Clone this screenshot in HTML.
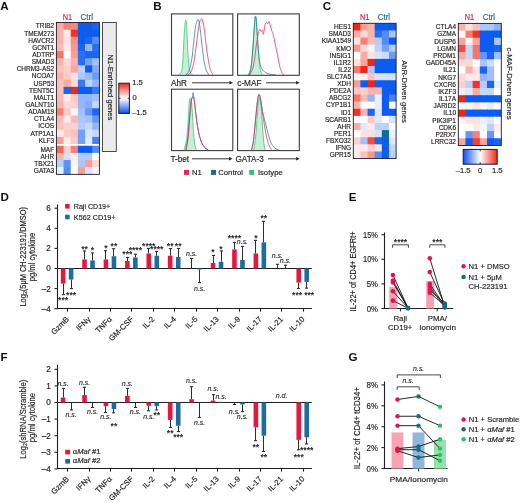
<!DOCTYPE html>
<html><head><meta charset="utf-8"><title>Figure</title>
<style>
html,body{margin:0;padding:0;background:#fff;}
body{width:520px;height:503px;overflow:hidden;}
svg{display:block;font-family:"Liberation Sans", sans-serif;will-change:transform;filter:blur(0.25px);}
</style></head>
<body>
<svg width="520" height="503" viewBox="0 0 520 503">
<rect x="0" y="0" width="520" height="503" fill="#ffffff"/>
<text x="0.30" y="9.60" font-size="11.6" text-anchor="start" fill="#111" font-weight="bold">A</text>
<text x="153.20" y="9.80" font-size="11.6" text-anchor="start" fill="#111" font-weight="bold">B</text>
<text x="322.80" y="9.80" font-size="11.6" text-anchor="start" fill="#111" font-weight="bold">C</text>
<text x="0.50" y="200.90" font-size="11.6" text-anchor="start" fill="#111" font-weight="bold">D</text>
<text x="348.80" y="201.20" font-size="11.6" text-anchor="start" fill="#111" font-weight="bold">E</text>
<text x="0.50" y="361.30" font-size="11.6" text-anchor="start" fill="#111" font-weight="bold">F</text>
<text x="348.60" y="361.30" font-size="11.6" text-anchor="start" fill="#111" font-weight="bold">G</text>
<rect x="56.40" y="22.50" width="7.87" height="7.85" fill="#faaca4"/>
<rect x="63.57" y="22.50" width="7.87" height="7.85" fill="#f78176"/>
<rect x="70.73" y="22.50" width="7.87" height="7.85" fill="#f8887e"/>
<rect x="77.90" y="22.50" width="7.87" height="7.85" fill="#0c5cf2"/>
<rect x="85.07" y="22.50" width="7.87" height="7.85" fill="#0c5cf2"/>
<rect x="92.23" y="22.50" width="7.17" height="7.85" fill="#1a65f3"/>
<text x="54.20" y="28.38" font-size="6.5" text-anchor="end" fill="#231f20" stroke="#231f20" stroke-width="0.17">TRIB2</text>
<rect x="56.40" y="29.65" width="7.87" height="7.85" fill="#fab3ac"/>
<rect x="63.57" y="29.65" width="7.87" height="7.85" fill="#feeae9"/>
<rect x="70.73" y="29.65" width="7.87" height="7.85" fill="#f33321"/>
<rect x="77.90" y="29.65" width="7.87" height="7.85" fill="#0c5cf2"/>
<rect x="85.07" y="29.65" width="7.87" height="7.85" fill="#0c5cf2"/>
<rect x="92.23" y="29.65" width="7.17" height="7.85" fill="#0c5cf2"/>
<text x="54.20" y="35.52" font-size="6.5" text-anchor="end" fill="#231f20" stroke="#231f20" stroke-width="0.17">TMEM273</text>
<rect x="56.40" y="36.80" width="7.87" height="7.85" fill="#fab3ac"/>
<rect x="63.57" y="36.80" width="7.87" height="7.85" fill="#fde2df"/>
<rect x="70.73" y="36.80" width="7.87" height="7.85" fill="#f88f85"/>
<rect x="77.90" y="36.80" width="7.87" height="7.85" fill="#0c5cf2"/>
<rect x="85.07" y="36.80" width="7.87" height="7.85" fill="#1a65f3"/>
<rect x="92.23" y="36.80" width="7.17" height="7.85" fill="#548cf6"/>
<text x="54.20" y="42.67" font-size="6.5" text-anchor="end" fill="#231f20" stroke="#231f20" stroke-width="0.17">HAVCR2</text>
<rect x="56.40" y="43.95" width="7.87" height="7.85" fill="#fbbab4"/>
<rect x="63.57" y="43.95" width="7.87" height="7.85" fill="#feeae9"/>
<rect x="70.73" y="43.95" width="7.87" height="7.85" fill="#f9968d"/>
<rect x="77.90" y="43.95" width="7.87" height="7.85" fill="#1a65f3"/>
<rect x="85.07" y="43.95" width="7.87" height="7.85" fill="#92b6f9"/>
<rect x="92.23" y="43.95" width="7.17" height="7.85" fill="#286ff4"/>
<text x="54.20" y="49.82" font-size="6.5" text-anchor="end" fill="#231f20" stroke="#231f20" stroke-width="0.17">GCNT1</text>
<rect x="56.40" y="51.10" width="7.87" height="7.85" fill="#f77468"/>
<rect x="63.57" y="51.10" width="7.87" height="7.85" fill="#ffffff"/>
<rect x="70.73" y="51.10" width="7.87" height="7.85" fill="#f99d95"/>
<rect x="77.90" y="51.10" width="7.87" height="7.85" fill="#286ff4"/>
<rect x="85.07" y="51.10" width="7.87" height="7.85" fill="#1a65f3"/>
<rect x="92.23" y="51.10" width="7.17" height="7.85" fill="#1a65f3"/>
<text x="54.20" y="56.97" font-size="6.5" text-anchor="end" fill="#231f20" stroke="#231f20" stroke-width="0.17">ADTRP</text>
<rect x="56.40" y="58.25" width="7.87" height="7.85" fill="#fab3ac"/>
<rect x="63.57" y="58.25" width="7.87" height="7.85" fill="#fdd9d6"/>
<rect x="70.73" y="58.25" width="7.87" height="7.85" fill="#fab3ac"/>
<rect x="77.90" y="58.25" width="7.87" height="7.85" fill="#286ff4"/>
<rect x="85.07" y="58.25" width="7.87" height="7.85" fill="#72a1f7"/>
<rect x="92.23" y="58.25" width="7.17" height="7.85" fill="#a2c0fa"/>
<text x="54.20" y="64.12" font-size="6.5" text-anchor="end" fill="#231f20" stroke="#231f20" stroke-width="0.17">SMAD3</text>
<rect x="56.40" y="65.40" width="7.87" height="7.85" fill="#fbc2bc"/>
<rect x="63.57" y="65.40" width="7.87" height="7.85" fill="#fcd1cd"/>
<rect x="70.73" y="65.40" width="7.87" height="7.85" fill="#faa49c"/>
<rect x="77.90" y="65.40" width="7.87" height="7.85" fill="#bad1fb"/>
<rect x="85.07" y="65.40" width="7.87" height="7.85" fill="#0c5cf2"/>
<rect x="92.23" y="65.40" width="7.17" height="7.85" fill="#82abf8"/>
<text x="54.20" y="71.27" font-size="6.5" text-anchor="end" fill="#231f20" stroke="#231f20" stroke-width="0.17">CHRM3-AS2</text>
<rect x="56.40" y="72.55" width="7.87" height="7.85" fill="#fab3ac"/>
<rect x="63.57" y="72.55" width="7.87" height="7.85" fill="#fcc9c5"/>
<rect x="70.73" y="72.55" width="7.87" height="7.85" fill="#fde2df"/>
<rect x="77.90" y="72.55" width="7.87" height="7.85" fill="#aac6fa"/>
<rect x="85.07" y="72.55" width="7.87" height="7.85" fill="#99bbfa"/>
<rect x="92.23" y="72.55" width="7.17" height="7.85" fill="#6b9cf7"/>
<text x="54.20" y="78.42" font-size="6.5" text-anchor="end" fill="#231f20" stroke="#231f20" stroke-width="0.17">NCOA7</text>
<rect x="56.40" y="79.70" width="7.87" height="7.85" fill="#fbc2bc"/>
<rect x="63.57" y="79.70" width="7.87" height="7.85" fill="#faaca4"/>
<rect x="70.73" y="79.70" width="7.87" height="7.85" fill="#fdd9d6"/>
<rect x="77.90" y="79.70" width="7.87" height="7.85" fill="#3779f4"/>
<rect x="85.07" y="79.70" width="7.87" height="7.85" fill="#bad1fb"/>
<rect x="92.23" y="79.70" width="7.17" height="7.85" fill="#92b6f9"/>
<text x="54.20" y="85.58" font-size="6.5" text-anchor="end" fill="#231f20" stroke="#231f20" stroke-width="0.17">USP53</text>
<rect x="56.40" y="86.85" width="7.87" height="7.85" fill="#fbc2bc"/>
<rect x="63.57" y="86.85" width="7.87" height="7.85" fill="#1a65f3"/>
<rect x="70.73" y="86.85" width="7.87" height="7.85" fill="#f22613"/>
<rect x="77.90" y="86.85" width="7.87" height="7.85" fill="#0c5cf2"/>
<rect x="85.07" y="86.85" width="7.87" height="7.85" fill="#0c5cf2"/>
<rect x="92.23" y="86.85" width="7.17" height="7.85" fill="#3779f4"/>
<text x="54.20" y="92.73" font-size="6.5" text-anchor="end" fill="#231f20" stroke="#231f20" stroke-width="0.17">TENT5C</text>
<rect x="56.40" y="94.00" width="7.87" height="7.85" fill="#fbbab4"/>
<rect x="63.57" y="94.00" width="7.87" height="7.85" fill="#feeae9"/>
<rect x="70.73" y="94.00" width="7.87" height="7.85" fill="#fcc9c5"/>
<rect x="77.90" y="94.00" width="7.87" height="7.85" fill="#92b6f9"/>
<rect x="85.07" y="94.00" width="7.87" height="7.85" fill="#92b6f9"/>
<rect x="92.23" y="94.00" width="7.17" height="7.85" fill="#a2c0fa"/>
<text x="54.20" y="99.88" font-size="6.5" text-anchor="end" fill="#231f20" stroke="#231f20" stroke-width="0.17">MALT1</text>
<rect x="56.40" y="101.15" width="7.87" height="7.85" fill="#fab3ac"/>
<rect x="63.57" y="101.15" width="7.87" height="7.85" fill="#fdd9d6"/>
<rect x="70.73" y="101.15" width="7.87" height="7.85" fill="#fcd1cd"/>
<rect x="77.90" y="101.15" width="7.87" height="7.85" fill="#92b6f9"/>
<rect x="85.07" y="101.15" width="7.87" height="7.85" fill="#82abf8"/>
<rect x="92.23" y="101.15" width="7.17" height="7.85" fill="#c3d7fc"/>
<text x="54.20" y="107.03" font-size="6.5" text-anchor="end" fill="#231f20" stroke="#231f20" stroke-width="0.17">GALNT10</text>
<rect x="56.40" y="108.30" width="7.87" height="7.85" fill="#f78176"/>
<rect x="63.57" y="108.30" width="7.87" height="7.85" fill="#fcc9c5"/>
<rect x="70.73" y="108.30" width="7.87" height="7.85" fill="#fef4f3"/>
<rect x="77.90" y="108.30" width="7.87" height="7.85" fill="#a2c0fa"/>
<rect x="85.07" y="108.30" width="7.87" height="7.85" fill="#6396f7"/>
<rect x="92.23" y="108.30" width="7.17" height="7.85" fill="#1a65f3"/>
<text x="54.20" y="114.18" font-size="6.5" text-anchor="end" fill="#231f20" stroke="#231f20" stroke-width="0.17">ADAM19</text>
<rect x="56.40" y="115.45" width="7.87" height="7.85" fill="#fbbab4"/>
<rect x="63.57" y="115.45" width="7.87" height="7.85" fill="#feeae9"/>
<rect x="70.73" y="115.45" width="7.87" height="7.85" fill="#fbbab4"/>
<rect x="77.90" y="115.45" width="7.87" height="7.85" fill="#aac6fa"/>
<rect x="85.07" y="115.45" width="7.87" height="7.85" fill="#a2c0fa"/>
<rect x="92.23" y="115.45" width="7.17" height="7.85" fill="#6396f7"/>
<text x="54.20" y="121.33" font-size="6.5" text-anchor="end" fill="#231f20" stroke="#231f20" stroke-width="0.17">CTLA4</text>
<rect x="56.40" y="122.60" width="7.87" height="7.85" fill="#fbc2bc"/>
<rect x="63.57" y="122.60" width="7.87" height="7.85" fill="#fcd1cd"/>
<rect x="70.73" y="122.60" width="7.87" height="7.85" fill="#fcd1cd"/>
<rect x="77.90" y="122.60" width="7.87" height="7.85" fill="#b2cbfb"/>
<rect x="85.07" y="122.60" width="7.87" height="7.85" fill="#c3d7fc"/>
<rect x="92.23" y="122.60" width="7.17" height="7.85" fill="#92b6f9"/>
<text x="54.20" y="128.48" font-size="6.5" text-anchor="end" fill="#231f20" stroke="#231f20" stroke-width="0.17">ICOS</text>
<rect x="56.40" y="129.75" width="7.87" height="7.85" fill="#feeae9"/>
<rect x="63.57" y="129.75" width="7.87" height="7.85" fill="#fcc9c5"/>
<rect x="70.73" y="129.75" width="7.87" height="7.85" fill="#fbc2bc"/>
<rect x="77.90" y="129.75" width="7.87" height="7.85" fill="#72a1f7"/>
<rect x="85.07" y="129.75" width="7.87" height="7.85" fill="#d5e3fd"/>
<rect x="92.23" y="129.75" width="7.17" height="7.85" fill="#c3d7fc"/>
<text x="54.20" y="135.63" font-size="6.5" text-anchor="end" fill="#231f20" stroke="#231f20" stroke-width="0.17">ATP1A1</text>
<rect x="56.40" y="136.90" width="7.87" height="7.15" fill="#f99d95"/>
<rect x="63.57" y="136.90" width="7.87" height="7.15" fill="#feeae9"/>
<rect x="70.73" y="136.90" width="7.87" height="7.15" fill="#fcc9c5"/>
<rect x="77.90" y="136.90" width="7.87" height="7.15" fill="#72a1f7"/>
<rect x="85.07" y="136.90" width="7.87" height="7.15" fill="#dee9fd"/>
<rect x="92.23" y="136.90" width="7.17" height="7.15" fill="#4583f5"/>
<text x="54.20" y="142.78" font-size="6.5" text-anchor="end" fill="#231f20" stroke="#231f20" stroke-width="0.17">KLF3</text>
<rect x="56.40" y="144.05" width="43.00" height="1.70" fill="#ffffff"/>
<rect x="56.40" y="145.75" width="7.87" height="7.85" fill="#f66759"/>
<rect x="63.57" y="145.75" width="7.87" height="7.85" fill="#fcd1cd"/>
<rect x="70.73" y="145.75" width="7.87" height="7.85" fill="#f78176"/>
<rect x="77.90" y="145.75" width="7.87" height="7.85" fill="#0c5cf2"/>
<rect x="85.07" y="145.75" width="7.87" height="7.85" fill="#0c5cf2"/>
<rect x="92.23" y="145.75" width="7.17" height="7.85" fill="#548cf6"/>
<text x="54.20" y="151.63" font-size="6.5" text-anchor="end" fill="#231f20" stroke="#231f20" stroke-width="0.17">MAF</text>
<rect x="56.40" y="152.90" width="7.87" height="7.85" fill="#fab3ac"/>
<rect x="63.57" y="152.90" width="7.87" height="7.85" fill="#d5e3fd"/>
<rect x="70.73" y="152.90" width="7.87" height="7.85" fill="#feeae9"/>
<rect x="77.90" y="152.90" width="7.87" height="7.85" fill="#b2cbfb"/>
<rect x="85.07" y="152.90" width="7.87" height="7.85" fill="#b2cbfb"/>
<rect x="92.23" y="152.90" width="7.17" height="7.85" fill="#ffffff"/>
<text x="54.20" y="158.78" font-size="6.5" text-anchor="end" fill="#231f20" stroke="#231f20" stroke-width="0.17">AHR</text>
<rect x="56.40" y="160.05" width="7.87" height="7.85" fill="#bad1fb"/>
<rect x="63.57" y="160.05" width="7.87" height="7.85" fill="#5c91f6"/>
<rect x="70.73" y="160.05" width="7.87" height="7.85" fill="#fef4f3"/>
<rect x="77.90" y="160.05" width="7.87" height="7.85" fill="#aac6fa"/>
<rect x="85.07" y="160.05" width="7.87" height="7.85" fill="#f99d95"/>
<rect x="92.23" y="160.05" width="7.17" height="7.85" fill="#fdd9d6"/>
<text x="54.20" y="165.93" font-size="6.5" text-anchor="end" fill="#231f20" stroke="#231f20" stroke-width="0.17">TBX21</text>
<rect x="56.40" y="167.20" width="7.87" height="7.15" fill="#e8f0fe"/>
<rect x="63.57" y="167.20" width="7.87" height="7.15" fill="#548cf6"/>
<rect x="70.73" y="167.20" width="7.87" height="7.15" fill="#ffffff"/>
<rect x="77.90" y="167.20" width="7.87" height="7.15" fill="#f99d95"/>
<rect x="85.07" y="167.20" width="7.87" height="7.15" fill="#d5e3fd"/>
<rect x="92.23" y="167.20" width="7.17" height="7.15" fill="#fef4f3"/>
<text x="54.20" y="173.08" font-size="6.5" text-anchor="end" fill="#231f20" stroke="#231f20" stroke-width="0.17">GATA3</text>
<rect x="56.40" y="22.50" width="43.00" height="151.85" fill="none" stroke="#1a1a2a" stroke-width="0.9"/>
<text x="67.40" y="19.60" font-size="8.4" text-anchor="middle" fill="#d21f4f" stroke="#d21f4f" stroke-width="0.17" textLength="9.4" lengthAdjust="spacingAndGlyphs">N1</text>
<text x="86.75" y="19.60" font-size="8.4" text-anchor="middle" fill="#2a6e8f" stroke="#2a6e8f" stroke-width="0.17" textLength="12.5" lengthAdjust="spacingAndGlyphs">Ctrl</text>
<rect x="102.50" y="22.50" width="13.80" height="129.00" fill="#ebebeb" stroke="#3a3a3a" stroke-width="0.9"/>
<text x="107.60" y="87.40" font-size="7.6" text-anchor="middle" fill="#231f20" stroke="#231f20" stroke-width="0.17" transform="rotate(90 107.60 87.40)" textLength="66.0" lengthAdjust="spacingAndGlyphs">N1-Enriched genes</text>
<defs><linearGradient id="gv" x1="0" y1="0" x2="0" y2="1"><stop offset="0" stop-color="#f0281a"/><stop offset="0.5" stop-color="#ffffff"/><stop offset="1" stop-color="#0c50f0"/></linearGradient><linearGradient id="gh" x1="0" y1="0" x2="1" y2="0"><stop offset="0" stop-color="#0c50f0"/><stop offset="0.5" stop-color="#ffffff"/><stop offset="1" stop-color="#f0281a"/></linearGradient></defs>
<rect x="118.80" y="83.20" width="10.60" height="30.20" fill="url(#gv)" stroke="#1a1a2a" stroke-width="1"/>
<line x1="118.80" y1="98.30" x2="120.60" y2="98.30" stroke="#1a1a2a" stroke-width="0.9"/>
<line x1="127.60" y1="98.30" x2="129.40" y2="98.30" stroke="#1a1a2a" stroke-width="0.9"/>
<text x="132.20" y="85.20" font-size="7.6" text-anchor="start" fill="#231f20" stroke="#231f20" stroke-width="0.17">1.5</text>
<text x="132.50" y="100.20" font-size="7.6" text-anchor="start" fill="#231f20" stroke="#231f20" stroke-width="0.17">0</text>
<text x="132.00" y="115.00" font-size="7.6" text-anchor="start" fill="#231f20" stroke="#231f20" stroke-width="0.17">–1.5</text>
<rect x="353.30" y="23.30" width="7.83" height="7.82" fill="#f22613"/>
<rect x="360.43" y="23.30" width="7.83" height="7.82" fill="#f99d95"/>
<rect x="367.57" y="23.30" width="7.83" height="7.82" fill="#fab3ac"/>
<rect x="374.70" y="23.30" width="7.83" height="7.82" fill="#0c5cf2"/>
<rect x="381.83" y="23.30" width="7.83" height="7.82" fill="#0c5cf2"/>
<rect x="388.97" y="23.30" width="7.13" height="7.82" fill="#0c5cf2"/>
<text x="351.00" y="29.16" font-size="6.5" text-anchor="end" fill="#231f20" stroke="#231f20" stroke-width="0.17">HES1</text>
<rect x="353.30" y="30.42" width="7.83" height="7.82" fill="#faaca4"/>
<rect x="360.43" y="30.42" width="7.83" height="7.82" fill="#fdd9d6"/>
<rect x="367.57" y="30.42" width="7.83" height="7.82" fill="#fab3ac"/>
<rect x="374.70" y="30.42" width="7.83" height="7.82" fill="#286ff4"/>
<rect x="381.83" y="30.42" width="7.83" height="7.82" fill="#548cf6"/>
<rect x="388.97" y="30.42" width="7.13" height="7.82" fill="#aac6fa"/>
<text x="351.00" y="36.28" font-size="6.5" text-anchor="end" fill="#231f20" stroke="#231f20" stroke-width="0.17">SMAD3</text>
<rect x="353.30" y="37.54" width="7.83" height="7.82" fill="#fde2df"/>
<rect x="360.43" y="37.54" width="7.83" height="7.82" fill="#f78176"/>
<rect x="367.57" y="37.54" width="7.83" height="7.82" fill="#fbbab4"/>
<rect x="374.70" y="37.54" width="7.83" height="7.82" fill="#b2cbfb"/>
<rect x="381.83" y="37.54" width="7.83" height="7.82" fill="#548cf6"/>
<rect x="388.97" y="37.54" width="7.13" height="7.82" fill="#0c5cf2"/>
<text x="351.00" y="43.40" font-size="6.5" text-anchor="end" fill="#231f20" stroke="#231f20" stroke-width="0.17">KIAA1549</text>
<rect x="353.30" y="44.66" width="7.83" height="7.82" fill="#f9968d"/>
<rect x="360.43" y="44.66" width="7.83" height="7.82" fill="#fdd9d6"/>
<rect x="367.57" y="44.66" width="7.83" height="7.82" fill="#fef4f3"/>
<rect x="374.70" y="44.66" width="7.83" height="7.82" fill="#bad1fb"/>
<rect x="381.83" y="44.66" width="7.83" height="7.82" fill="#72a1f7"/>
<rect x="388.97" y="44.66" width="7.13" height="7.82" fill="#b2cbfb"/>
<text x="351.00" y="50.52" font-size="6.5" text-anchor="end" fill="#231f20" stroke="#231f20" stroke-width="0.17">KMO</text>
<rect x="353.30" y="51.78" width="7.83" height="7.82" fill="#ffffff"/>
<rect x="360.43" y="51.78" width="7.83" height="7.82" fill="#faaca4"/>
<rect x="367.57" y="51.78" width="7.83" height="7.82" fill="#fde2df"/>
<rect x="374.70" y="51.78" width="7.83" height="7.82" fill="#d5e3fd"/>
<rect x="381.83" y="51.78" width="7.83" height="7.82" fill="#ccddfc"/>
<rect x="388.97" y="51.78" width="7.13" height="7.82" fill="#6b9cf7"/>
<text x="351.00" y="57.64" font-size="6.5" text-anchor="end" fill="#231f20" stroke="#231f20" stroke-width="0.17">INSIG1</text>
<rect x="353.30" y="58.90" width="7.83" height="7.82" fill="#fde2df"/>
<rect x="360.43" y="58.90" width="7.83" height="7.82" fill="#faa49c"/>
<rect x="367.57" y="58.90" width="7.83" height="7.82" fill="#f22613"/>
<rect x="374.70" y="58.90" width="7.83" height="7.82" fill="#0c5cf2"/>
<rect x="381.83" y="58.90" width="7.83" height="7.82" fill="#0c5cf2"/>
<rect x="388.97" y="58.90" width="7.13" height="7.82" fill="#0c5cf2"/>
<text x="351.00" y="64.76" font-size="6.5" text-anchor="end" fill="#231f20" stroke="#231f20" stroke-width="0.17">IL1R2</text>
<rect x="353.30" y="66.02" width="7.83" height="7.82" fill="#f77b6f"/>
<rect x="360.43" y="66.02" width="7.83" height="7.82" fill="#f22613"/>
<rect x="367.57" y="66.02" width="7.83" height="7.82" fill="#aac6fa"/>
<rect x="374.70" y="66.02" width="7.83" height="7.82" fill="#0c5cf2"/>
<rect x="381.83" y="66.02" width="7.83" height="7.82" fill="#0c5cf2"/>
<rect x="388.97" y="66.02" width="7.13" height="7.82" fill="#0c5cf2"/>
<text x="351.00" y="71.88" font-size="6.5" text-anchor="end" fill="#231f20" stroke="#231f20" stroke-width="0.17">IL22</text>
<rect x="353.30" y="73.14" width="7.83" height="7.82" fill="#fef4f3"/>
<rect x="360.43" y="73.14" width="7.83" height="7.82" fill="#fef4f3"/>
<rect x="367.57" y="73.14" width="7.83" height="7.82" fill="#fbc2bc"/>
<rect x="374.70" y="73.14" width="7.83" height="7.82" fill="#d5e3fd"/>
<rect x="381.83" y="73.14" width="7.83" height="7.82" fill="#d5e3fd"/>
<rect x="388.97" y="73.14" width="7.13" height="7.82" fill="#d5e3fd"/>
<text x="351.00" y="79.00" font-size="6.5" text-anchor="end" fill="#231f20" stroke="#231f20" stroke-width="0.17">SLC7A5</text>
<rect x="353.30" y="80.26" width="7.83" height="7.82" fill="#f99d95"/>
<rect x="360.43" y="80.26" width="7.83" height="7.82" fill="#0c5cf2"/>
<rect x="367.57" y="80.26" width="7.83" height="7.82" fill="#f22613"/>
<rect x="374.70" y="80.26" width="7.83" height="7.82" fill="#0c5cf2"/>
<rect x="381.83" y="80.26" width="7.83" height="7.82" fill="#0c5cf2"/>
<rect x="388.97" y="80.26" width="7.13" height="7.82" fill="#0c5cf2"/>
<text x="351.00" y="86.12" font-size="6.5" text-anchor="end" fill="#231f20" stroke="#231f20" stroke-width="0.17">XDH</text>
<rect x="353.30" y="87.38" width="7.83" height="7.82" fill="#fcc9c5"/>
<rect x="360.43" y="87.38" width="7.83" height="7.82" fill="#fcd1cd"/>
<rect x="367.57" y="87.38" width="7.83" height="7.82" fill="#fab3ac"/>
<rect x="374.70" y="87.38" width="7.83" height="7.82" fill="#fab3ac"/>
<rect x="381.83" y="87.38" width="7.83" height="7.82" fill="#0c5cf2"/>
<rect x="388.97" y="87.38" width="7.13" height="7.82" fill="#0c5cf2"/>
<text x="351.00" y="93.24" font-size="6.5" text-anchor="end" fill="#231f20" stroke="#231f20" stroke-width="0.17">PDE2A</text>
<rect x="353.30" y="94.50" width="7.83" height="7.82" fill="#f77468"/>
<rect x="360.43" y="94.50" width="7.83" height="7.82" fill="#fbbab4"/>
<rect x="367.57" y="94.50" width="7.83" height="7.82" fill="#92b6f9"/>
<rect x="374.70" y="94.50" width="7.83" height="7.82" fill="#e8f0fe"/>
<rect x="381.83" y="94.50" width="7.83" height="7.82" fill="#0c5cf2"/>
<rect x="388.97" y="94.50" width="7.13" height="7.82" fill="#4583f5"/>
<text x="351.00" y="100.36" font-size="6.5" text-anchor="end" fill="#231f20" stroke="#231f20" stroke-width="0.17">ABCG2</text>
<rect x="353.30" y="101.62" width="7.83" height="7.82" fill="#fab3ac"/>
<rect x="360.43" y="101.62" width="7.83" height="7.82" fill="#ffffff"/>
<rect x="367.57" y="101.62" width="7.83" height="7.82" fill="#ffffff"/>
<rect x="374.70" y="101.62" width="7.83" height="7.82" fill="#e8f0fe"/>
<rect x="381.83" y="101.62" width="7.83" height="7.82" fill="#0c5cf2"/>
<rect x="388.97" y="101.62" width="7.13" height="7.82" fill="#ffffff"/>
<text x="351.00" y="107.48" font-size="6.5" text-anchor="end" fill="#231f20" stroke="#231f20" stroke-width="0.17">CYP1B1</text>
<rect x="353.30" y="108.74" width="7.83" height="7.82" fill="#f33321"/>
<rect x="360.43" y="108.74" width="7.83" height="7.82" fill="#fab3ac"/>
<rect x="367.57" y="108.74" width="7.83" height="7.82" fill="#1a65f3"/>
<rect x="374.70" y="108.74" width="7.83" height="7.82" fill="#dee9fd"/>
<rect x="381.83" y="108.74" width="7.83" height="7.82" fill="#0c5cf2"/>
<rect x="388.97" y="108.74" width="7.13" height="7.82" fill="#0c5cf2"/>
<text x="351.00" y="114.60" font-size="6.5" text-anchor="end" fill="#231f20" stroke="#231f20" stroke-width="0.17">ID1</text>
<rect x="353.30" y="115.86" width="7.83" height="7.82" fill="#ffffff"/>
<rect x="360.43" y="115.86" width="7.83" height="7.82" fill="#ffffff"/>
<rect x="367.57" y="115.86" width="7.83" height="7.82" fill="#fcc9c5"/>
<rect x="374.70" y="115.86" width="7.83" height="7.82" fill="#dee9fd"/>
<rect x="381.83" y="115.86" width="7.83" height="7.82" fill="#ffffff"/>
<rect x="388.97" y="115.86" width="7.13" height="7.82" fill="#d5e3fd"/>
<text x="351.00" y="121.72" font-size="6.5" text-anchor="end" fill="#231f20" stroke="#231f20" stroke-width="0.17">SCARB1</text>
<rect x="353.30" y="122.98" width="7.83" height="7.82" fill="#faaca4"/>
<rect x="360.43" y="122.98" width="7.83" height="7.82" fill="#dee9fd"/>
<rect x="367.57" y="122.98" width="7.83" height="7.82" fill="#feeae9"/>
<rect x="374.70" y="122.98" width="7.83" height="7.82" fill="#bad1fb"/>
<rect x="381.83" y="122.98" width="7.83" height="7.82" fill="#bad1fb"/>
<rect x="388.97" y="122.98" width="7.13" height="7.82" fill="#ffffff"/>
<text x="351.00" y="128.84" font-size="6.5" text-anchor="end" fill="#231f20" stroke="#231f20" stroke-width="0.17">AHR</text>
<rect x="353.30" y="130.10" width="7.83" height="7.82" fill="#ffffff"/>
<rect x="360.43" y="130.10" width="7.83" height="7.82" fill="#fde2df"/>
<rect x="367.57" y="130.10" width="7.83" height="7.82" fill="#fde2df"/>
<rect x="374.70" y="130.10" width="7.83" height="7.82" fill="#d5e3fd"/>
<rect x="381.83" y="130.10" width="7.83" height="7.82" fill="#0e6e8c"/>
<rect x="388.97" y="130.10" width="7.13" height="7.82" fill="#e8f0fe"/>
<text x="351.00" y="135.96" font-size="6.5" text-anchor="end" fill="#231f20" stroke="#231f20" stroke-width="0.17">PER1</text>
<rect x="353.30" y="137.22" width="7.83" height="7.82" fill="#fcd1cd"/>
<rect x="360.43" y="137.22" width="7.83" height="7.82" fill="#a2c0fa"/>
<rect x="367.57" y="137.22" width="7.83" height="7.82" fill="#f44c3d"/>
<rect x="374.70" y="137.22" width="7.83" height="7.82" fill="#1a65f3"/>
<rect x="381.83" y="137.22" width="7.83" height="7.82" fill="#0c5cf2"/>
<rect x="388.97" y="137.22" width="7.13" height="7.82" fill="#dee9fd"/>
<text x="351.00" y="143.08" font-size="6.5" text-anchor="end" fill="#231f20" stroke="#231f20" stroke-width="0.17">FBXO32</text>
<rect x="353.30" y="144.34" width="7.83" height="7.82" fill="#feeae9"/>
<rect x="360.43" y="144.34" width="7.83" height="7.82" fill="#feeae9"/>
<rect x="367.57" y="144.34" width="7.83" height="7.82" fill="#fcd1cd"/>
<rect x="374.70" y="144.34" width="7.83" height="7.82" fill="#fde2df"/>
<rect x="381.83" y="144.34" width="7.83" height="7.82" fill="#0c5cf2"/>
<rect x="388.97" y="144.34" width="7.13" height="7.82" fill="#c3d7fc"/>
<text x="351.00" y="150.20" font-size="6.5" text-anchor="end" fill="#231f20" stroke="#231f20" stroke-width="0.17">IFNG</text>
<rect x="353.30" y="151.46" width="7.83" height="7.12" fill="#feeae9"/>
<rect x="360.43" y="151.46" width="7.83" height="7.12" fill="#fbc2bc"/>
<rect x="367.57" y="151.46" width="7.83" height="7.12" fill="#f9968d"/>
<rect x="374.70" y="151.46" width="7.83" height="7.12" fill="#548cf6"/>
<rect x="381.83" y="151.46" width="7.83" height="7.12" fill="#0c5cf2"/>
<rect x="388.97" y="151.46" width="7.13" height="7.12" fill="#bad1fb"/>
<text x="351.00" y="157.32" font-size="6.5" text-anchor="end" fill="#231f20" stroke="#231f20" stroke-width="0.17">GPR15</text>
<rect x="353.30" y="23.30" width="42.80" height="135.28" fill="none" stroke="#1a1a2a" stroke-width="0.9"/>
<text x="364.60" y="19.60" font-size="8.4" text-anchor="middle" fill="#d21f4f" stroke="#d21f4f" stroke-width="0.17" textLength="9.4" lengthAdjust="spacingAndGlyphs">N1</text>
<text x="383.90" y="19.60" font-size="8.4" text-anchor="middle" fill="#2a6e8f" stroke="#2a6e8f" stroke-width="0.17" textLength="12.5" lengthAdjust="spacingAndGlyphs">Ctrl</text>
<text x="402.30" y="91.50" font-size="7.6" text-anchor="middle" fill="#231f20" stroke="#231f20" stroke-width="0.17" transform="rotate(90 402.30 91.50)" textLength="62.7" lengthAdjust="spacingAndGlyphs">AhR-Driven genes</text>
<rect x="458.30" y="23.40" width="7.87" height="7.88" fill="#fab3ac"/>
<rect x="465.47" y="23.40" width="7.87" height="7.88" fill="#fde2df"/>
<rect x="472.63" y="23.40" width="7.87" height="7.88" fill="#fbc2bc"/>
<rect x="479.80" y="23.40" width="7.87" height="7.88" fill="#aac6fa"/>
<rect x="486.97" y="23.40" width="7.87" height="7.88" fill="#aac6fa"/>
<rect x="494.13" y="23.40" width="7.17" height="7.88" fill="#8ab0f9"/>
<text x="456.00" y="29.29" font-size="6.5" text-anchor="end" fill="#231f20" stroke="#231f20" stroke-width="0.17">CTLA4</text>
<rect x="458.30" y="30.58" width="7.87" height="7.88" fill="#fef4f3"/>
<rect x="465.47" y="30.58" width="7.87" height="7.88" fill="#f77b6f"/>
<rect x="472.63" y="30.58" width="7.87" height="7.88" fill="#f33321"/>
<rect x="479.80" y="30.58" width="7.87" height="7.88" fill="#0c5cf2"/>
<rect x="486.97" y="30.58" width="7.87" height="7.88" fill="#0c5cf2"/>
<rect x="494.13" y="30.58" width="7.17" height="7.88" fill="#0c5cf2"/>
<text x="456.00" y="36.47" font-size="6.5" text-anchor="end" fill="#231f20" stroke="#231f20" stroke-width="0.17">GZMA</text>
<rect x="458.30" y="37.76" width="7.87" height="7.88" fill="#faa49c"/>
<rect x="465.47" y="37.76" width="7.87" height="7.88" fill="#fef4f3"/>
<rect x="472.63" y="37.76" width="7.87" height="7.88" fill="#faa49c"/>
<rect x="479.80" y="37.76" width="7.87" height="7.88" fill="#0c5cf2"/>
<rect x="486.97" y="37.76" width="7.87" height="7.88" fill="#0c5cf2"/>
<rect x="494.13" y="37.76" width="7.17" height="7.88" fill="#aac6fa"/>
<text x="456.00" y="43.65" font-size="6.5" text-anchor="end" fill="#231f20" stroke="#231f20" stroke-width="0.17">DUSP6</text>
<rect x="458.30" y="44.94" width="7.87" height="7.88" fill="#f44c3d"/>
<rect x="465.47" y="44.94" width="7.87" height="7.88" fill="#c3d7fc"/>
<rect x="472.63" y="44.94" width="7.87" height="7.88" fill="#f77468"/>
<rect x="479.80" y="44.94" width="7.87" height="7.88" fill="#0c5cf2"/>
<rect x="486.97" y="44.94" width="7.87" height="7.88" fill="#0c5cf2"/>
<rect x="494.13" y="44.94" width="7.17" height="7.88" fill="#1a65f3"/>
<text x="456.00" y="50.83" font-size="6.5" text-anchor="end" fill="#231f20" stroke="#231f20" stroke-width="0.17">LGMN</text>
<rect x="458.30" y="52.12" width="7.87" height="7.88" fill="#faaca4"/>
<rect x="465.47" y="52.12" width="7.87" height="7.88" fill="#c3d7fc"/>
<rect x="472.63" y="52.12" width="7.87" height="7.88" fill="#f77468"/>
<rect x="479.80" y="52.12" width="7.87" height="7.88" fill="#6396f7"/>
<rect x="486.97" y="52.12" width="7.87" height="7.88" fill="#1a65f3"/>
<rect x="494.13" y="52.12" width="7.17" height="7.88" fill="#a2c0fa"/>
<text x="456.00" y="58.01" font-size="6.5" text-anchor="end" fill="#231f20" stroke="#231f20" stroke-width="0.17">PRDM1</text>
<rect x="458.30" y="59.30" width="7.87" height="7.88" fill="#fdd9d6"/>
<rect x="465.47" y="59.30" width="7.87" height="7.88" fill="#fdd9d6"/>
<rect x="472.63" y="59.30" width="7.87" height="7.88" fill="#ffffff"/>
<rect x="479.80" y="59.30" width="7.87" height="7.88" fill="#aac6fa"/>
<rect x="486.97" y="59.30" width="7.87" height="7.88" fill="#ccddfc"/>
<rect x="494.13" y="59.30" width="7.17" height="7.88" fill="#ffffff"/>
<text x="456.00" y="65.19" font-size="6.5" text-anchor="end" fill="#231f20" stroke="#231f20" stroke-width="0.17">GADD45A</text>
<rect x="458.30" y="66.48" width="7.87" height="7.88" fill="#ffffff"/>
<rect x="465.47" y="66.48" width="7.87" height="7.88" fill="#fab3ac"/>
<rect x="472.63" y="66.48" width="7.87" height="7.88" fill="#fde2df"/>
<rect x="479.80" y="66.48" width="7.87" height="7.88" fill="#1a65f3"/>
<rect x="486.97" y="66.48" width="7.87" height="7.88" fill="#a2c0fa"/>
<rect x="494.13" y="66.48" width="7.17" height="7.88" fill="#ffffff"/>
<text x="456.00" y="72.37" font-size="6.5" text-anchor="end" fill="#231f20" stroke="#231f20" stroke-width="0.17">IL21</text>
<rect x="458.30" y="73.66" width="7.87" height="7.88" fill="#fdd9d6"/>
<rect x="465.47" y="73.66" width="7.87" height="7.88" fill="#feeae9"/>
<rect x="472.63" y="73.66" width="7.87" height="7.88" fill="#feeae9"/>
<rect x="479.80" y="73.66" width="7.87" height="7.88" fill="#92b6f9"/>
<rect x="486.97" y="73.66" width="7.87" height="7.88" fill="#a2c0fa"/>
<rect x="494.13" y="73.66" width="7.17" height="7.88" fill="#ffffff"/>
<text x="456.00" y="79.55" font-size="6.5" text-anchor="end" fill="#231f20" stroke="#231f20" stroke-width="0.17">NKG7</text>
<rect x="458.30" y="80.84" width="7.87" height="7.88" fill="#fcd1cd"/>
<rect x="465.47" y="80.84" width="7.87" height="7.88" fill="#bad1fb"/>
<rect x="472.63" y="80.84" width="7.87" height="7.88" fill="#f33321"/>
<rect x="479.80" y="80.84" width="7.87" height="7.88" fill="#b2cbfb"/>
<rect x="486.97" y="80.84" width="7.87" height="7.88" fill="#1a65f3"/>
<rect x="494.13" y="80.84" width="7.17" height="7.88" fill="#e8f0fe"/>
<text x="456.00" y="86.73" font-size="6.5" text-anchor="end" fill="#231f20" stroke="#231f20" stroke-width="0.17">CXCR6</text>
<rect x="458.30" y="88.02" width="7.87" height="7.88" fill="#feeae9"/>
<rect x="465.47" y="88.02" width="7.87" height="7.88" fill="#dee9fd"/>
<rect x="472.63" y="88.02" width="7.87" height="7.88" fill="#faaca4"/>
<rect x="479.80" y="88.02" width="7.87" height="7.88" fill="#c3d7fc"/>
<rect x="486.97" y="88.02" width="7.87" height="7.88" fill="#c3d7fc"/>
<rect x="494.13" y="88.02" width="7.17" height="7.88" fill="#ffffff"/>
<text x="456.00" y="93.91" font-size="6.5" text-anchor="end" fill="#231f20" stroke="#231f20" stroke-width="0.17">IKZF3</text>
<rect x="458.30" y="95.20" width="7.87" height="7.88" fill="#f22613"/>
<rect x="465.47" y="95.20" width="7.87" height="7.88" fill="#0c5cf2"/>
<rect x="472.63" y="95.20" width="7.87" height="7.88" fill="#0c5cf2"/>
<rect x="479.80" y="95.20" width="7.87" height="7.88" fill="#0c5cf2"/>
<rect x="486.97" y="95.20" width="7.87" height="7.88" fill="#0c5cf2"/>
<rect x="494.13" y="95.20" width="7.17" height="7.88" fill="#0c5cf2"/>
<text x="456.00" y="101.09" font-size="6.5" text-anchor="end" fill="#231f20" stroke="#231f20" stroke-width="0.17">IL17A</text>
<rect x="458.30" y="102.38" width="7.87" height="7.88" fill="#ffffff"/>
<rect x="465.47" y="102.38" width="7.87" height="7.88" fill="#f2f7fe"/>
<rect x="472.63" y="102.38" width="7.87" height="7.88" fill="#fde2df"/>
<rect x="479.80" y="102.38" width="7.87" height="7.88" fill="#f2f7fe"/>
<rect x="486.97" y="102.38" width="7.87" height="7.88" fill="#e8f0fe"/>
<rect x="494.13" y="102.38" width="7.17" height="7.88" fill="#ffffff"/>
<text x="456.00" y="108.27" font-size="6.5" text-anchor="end" fill="#231f20" stroke="#231f20" stroke-width="0.17">JARID2</text>
<rect x="458.30" y="109.56" width="7.87" height="7.88" fill="#f22613"/>
<rect x="465.47" y="109.56" width="7.87" height="7.88" fill="#0c5cf2"/>
<rect x="472.63" y="109.56" width="7.87" height="7.88" fill="#0c5cf2"/>
<rect x="479.80" y="109.56" width="7.87" height="7.88" fill="#0c5cf2"/>
<rect x="486.97" y="109.56" width="7.87" height="7.88" fill="#0c5cf2"/>
<rect x="494.13" y="109.56" width="7.17" height="7.88" fill="#0c5cf2"/>
<text x="456.00" y="115.45" font-size="6.5" text-anchor="end" fill="#231f20" stroke="#231f20" stroke-width="0.17">IL10</text>
<rect x="458.30" y="116.74" width="7.87" height="7.88" fill="#fef4f3"/>
<rect x="465.47" y="116.74" width="7.87" height="7.88" fill="#fde2df"/>
<rect x="472.63" y="116.74" width="7.87" height="7.88" fill="#fde2df"/>
<rect x="479.80" y="116.74" width="7.87" height="7.88" fill="#e8f0fe"/>
<rect x="486.97" y="116.74" width="7.87" height="7.88" fill="#dee9fd"/>
<rect x="494.13" y="116.74" width="7.17" height="7.88" fill="#ffffff"/>
<text x="456.00" y="122.63" font-size="6.5" text-anchor="end" fill="#231f20" stroke="#231f20" stroke-width="0.17">PIK3IP1</text>
<rect x="458.30" y="123.92" width="7.87" height="7.88" fill="#ffffff"/>
<rect x="465.47" y="123.92" width="7.87" height="7.88" fill="#ffffff"/>
<rect x="472.63" y="123.92" width="7.87" height="7.88" fill="#feeae9"/>
<rect x="479.80" y="123.92" width="7.87" height="7.88" fill="#f2f7fe"/>
<rect x="486.97" y="123.92" width="7.87" height="7.88" fill="#bad1fb"/>
<rect x="494.13" y="123.92" width="7.17" height="7.88" fill="#feeae9"/>
<text x="456.00" y="129.81" font-size="6.5" text-anchor="end" fill="#231f20" stroke="#231f20" stroke-width="0.17">CDK6</text>
<rect x="458.30" y="131.10" width="7.87" height="7.88" fill="#ffffff"/>
<rect x="465.47" y="131.10" width="7.87" height="7.88" fill="#6396f7"/>
<rect x="472.63" y="131.10" width="7.87" height="7.88" fill="#f78176"/>
<rect x="479.80" y="131.10" width="7.87" height="7.88" fill="#ffffff"/>
<rect x="486.97" y="131.10" width="7.87" height="7.88" fill="#6396f7"/>
<rect x="494.13" y="131.10" width="7.17" height="7.88" fill="#ffffff"/>
<text x="456.00" y="136.99" font-size="6.5" text-anchor="end" fill="#231f20" stroke="#231f20" stroke-width="0.17">P2RX7</text>
<rect x="458.30" y="138.28" width="7.87" height="7.18" fill="#faa49c"/>
<rect x="465.47" y="138.28" width="7.87" height="7.18" fill="#0c5cf2"/>
<rect x="472.63" y="138.28" width="7.87" height="7.18" fill="#f43f2f"/>
<rect x="479.80" y="138.28" width="7.87" height="7.18" fill="#faa49c"/>
<rect x="486.97" y="138.28" width="7.87" height="7.18" fill="#0c5cf2"/>
<rect x="494.13" y="138.28" width="7.17" height="7.18" fill="#1a65f3"/>
<text x="456.00" y="144.17" font-size="6.5" text-anchor="end" fill="#231f20" stroke="#231f20" stroke-width="0.17">LRRC32</text>
<rect x="458.30" y="23.40" width="43.00" height="122.06" fill="none" stroke="#1a1a2a" stroke-width="0.9"/>
<text x="469.40" y="19.60" font-size="8.4" text-anchor="middle" fill="#d21f4f" stroke="#d21f4f" stroke-width="0.17" textLength="9.4" lengthAdjust="spacingAndGlyphs">N1</text>
<text x="488.90" y="19.60" font-size="8.4" text-anchor="middle" fill="#2a6e8f" stroke="#2a6e8f" stroke-width="0.17" textLength="12.3" lengthAdjust="spacingAndGlyphs">Ctrl</text>
<text x="507.30" y="83.60" font-size="7.6" text-anchor="middle" fill="#231f20" stroke="#231f20" stroke-width="0.17" transform="rotate(90 507.30 83.60)" textLength="72.0" lengthAdjust="spacingAndGlyphs">c-MAF-Driven genes</text>
<rect x="463.20" y="149.40" width="34.00" height="14.80" fill="url(#gh)" stroke="#1a1a2a" stroke-width="1"/>
<line x1="480.20" y1="149.40" x2="480.20" y2="151.40" stroke="#1a1a2a" stroke-width="0.9"/>
<line x1="480.20" y1="162.20" x2="480.20" y2="164.20" stroke="#1a1a2a" stroke-width="0.9"/>
<text x="463.20" y="172.90" font-size="7.6" text-anchor="middle" fill="#231f20" stroke="#231f20" stroke-width="0.17">–1.5</text>
<text x="480.20" y="172.90" font-size="7.6" text-anchor="middle" fill="#231f20" stroke="#231f20" stroke-width="0.17">0</text>
<text x="497.20" y="172.90" font-size="7.6" text-anchor="middle" fill="#231f20" stroke="#231f20" stroke-width="0.17">1.5</text>
<path d="M178.44,75.13 C178.90,74.59 180.52,73.74 181.22,71.93 C181.92,70.12 182.22,68.56 182.61,64.27 C183.01,59.98 183.24,52.44 183.59,46.18 C183.93,39.92 184.33,31.06 184.70,26.70 C185.07,22.34 185.49,20.25 185.81,20.02 C186.14,19.79 186.37,21.18 186.65,25.31 C186.93,29.44 187.16,38.53 187.48,44.79 C187.81,51.05 188.13,58.36 188.60,62.88 C189.06,67.40 189.57,69.88 190.27,71.93 C190.96,73.97 192.35,74.59 192.77,75.13 L192.77,74.50 L178.44,74.50 Z" fill="#c6efd6" stroke="none"/>
<path d="M178.44,75.13 C178.90,74.59 180.52,73.74 181.22,71.93 C181.92,70.12 182.22,68.56 182.61,64.27 C183.01,59.98 183.24,52.44 183.59,46.18 C183.93,39.92 184.33,31.06 184.70,26.70 C185.07,22.34 185.49,20.25 185.81,20.02 C186.14,19.79 186.37,21.18 186.65,25.31 C186.93,29.44 187.16,38.53 187.48,44.79 C187.81,51.05 188.13,58.36 188.60,62.88 C189.06,67.40 189.57,69.88 190.27,71.93 C190.96,73.97 192.35,74.59 192.77,75.13" fill="none" stroke="#34c27a" stroke-width="0.75"/>
<path d="M185.39,75.13 C185.97,74.48 187.83,73.74 188.87,71.23 C189.92,68.73 190.85,64.97 191.66,60.10 C192.47,55.23 193.10,47.57 193.74,42.01 C194.39,36.44 194.97,30.29 195.55,26.70 C196.13,23.10 196.81,21.64 197.22,20.44 C197.64,19.23 197.78,19.35 198.06,19.46 C198.34,19.58 198.52,19.46 198.89,21.13 C199.26,22.80 199.75,25.31 200.28,29.48 C200.82,33.66 201.49,41.08 202.09,46.18 C202.70,51.28 203.28,56.27 203.90,60.10 C204.53,63.92 205.06,66.68 205.85,69.14 C206.64,71.60 208.17,73.90 208.63,74.85" fill="none" stroke="#2b7896" stroke-width="0.75"/>
<path d="M187.48,75.13 C188.06,74.59 189.92,73.97 190.96,71.93 C192.01,69.88 192.93,66.71 193.74,62.88 C194.56,59.05 195.14,54.07 195.83,48.96 C196.53,43.86 197.27,36.79 197.92,32.27 C198.57,27.74 199.15,24.03 199.73,21.83 C200.31,19.63 200.89,19.16 201.40,19.05 C201.91,18.93 202.28,19.16 202.79,21.13 C203.30,23.10 203.88,26.70 204.46,30.87 C205.04,35.05 205.62,41.31 206.27,46.18 C206.92,51.05 207.66,56.15 208.36,60.10 C209.05,64.04 209.63,67.33 210.44,69.84 C211.26,72.34 212.76,74.25 213.23,75.13" fill="none" stroke="#e2285c" stroke-width="0.75"/>
<path d="M247.92,75.13 C248.38,74.01 249.93,72.34 250.70,68.45 C251.46,64.55 252.00,57.55 252.51,51.75 C253.02,45.95 253.37,38.99 253.76,33.66 C254.15,28.32 254.57,22.64 254.87,19.74 C255.18,16.84 255.34,16.26 255.57,16.26 C255.80,16.26 255.96,16.38 256.27,19.74 C256.57,23.10 256.96,30.41 257.38,36.44 C257.80,42.47 258.31,50.59 258.77,55.92 C259.23,61.26 259.65,65.39 260.16,68.45 C260.67,71.51 261.28,73.18 261.83,74.29 C262.39,75.40 263.22,74.99 263.50,75.13 L263.50,74.50 L247.92,74.50 Z" fill="#c6efd6" stroke="none"/>
<path d="M247.92,75.13 C248.38,74.01 249.93,72.34 250.70,68.45 C251.46,64.55 252.00,57.55 252.51,51.75 C253.02,45.95 253.37,38.99 253.76,33.66 C254.15,28.32 254.57,22.64 254.87,19.74 C255.18,16.84 255.34,16.26 255.57,16.26 C255.80,16.26 255.96,16.38 256.27,19.74 C256.57,23.10 256.96,30.41 257.38,36.44 C257.80,42.47 258.31,50.59 258.77,55.92 C259.23,61.26 259.65,65.39 260.16,68.45 C260.67,71.51 261.28,73.18 261.83,74.29 C262.39,75.40 263.22,74.99 263.50,75.13" fill="none" stroke="#34c27a" stroke-width="0.75"/>
<path d="M248.61,75.13 C249.01,74.01 250.30,72.34 250.98,68.45 C251.65,64.55 252.16,57.55 252.65,51.75 C253.13,45.95 253.53,38.99 253.90,33.66 C254.27,28.32 254.60,22.64 254.87,19.74 C255.15,16.84 255.34,16.26 255.57,16.26 C255.80,16.26 255.96,16.38 256.27,19.74 C256.57,23.10 256.96,30.64 257.38,36.44 C257.80,42.24 258.31,49.89 258.77,54.53 C259.23,59.17 259.54,61.72 260.16,64.27 C260.79,66.82 261.44,68.33 262.53,69.84 C263.62,71.35 265.19,72.55 266.70,73.32 C268.21,74.08 270.07,74.15 271.57,74.43 C273.08,74.71 275.05,74.89 275.75,74.99" fill="none" stroke="#2b7896" stroke-width="0.75"/>
<path d="M249.59,75.13 C250.12,74.01 251.91,71.42 252.79,68.45 C253.67,65.48 254.25,61.49 254.87,57.31 C255.50,53.14 255.96,47.34 256.54,43.40 C257.12,39.46 257.82,35.98 258.35,33.66 C258.89,31.34 259.28,29.83 259.74,29.48 C260.21,29.13 260.67,31.45 261.14,31.57 C261.60,31.69 262.13,29.71 262.53,30.18 C262.92,30.64 263.11,35.16 263.50,34.35 C263.90,33.54 264.43,27.33 264.89,25.31 C265.36,23.29 265.82,22.48 266.28,22.25 C266.75,22.01 267.21,24.06 267.68,23.92 C268.14,23.78 268.60,20.99 269.07,21.41 C269.53,21.83 270.00,24.84 270.46,26.42 C270.92,28.00 271.43,29.67 271.85,30.87 C272.27,32.08 272.55,32.15 272.96,33.66 C273.38,35.16 273.89,37.72 274.36,39.92 C274.82,42.12 275.24,44.44 275.75,46.88 C276.26,49.31 276.84,51.63 277.42,54.53 C278.00,57.43 278.58,61.49 279.23,64.27 C279.88,67.06 280.62,69.42 281.31,71.23 C282.01,73.04 283.05,74.48 283.40,75.13" fill="none" stroke="#e2285c" stroke-width="0.75"/>
<path d="M184.00,150.40 C184.47,148.32 186.09,142.98 186.79,137.88 C187.48,132.78 187.78,125.59 188.18,119.79 C188.57,113.99 188.80,106.69 189.15,103.09 C189.50,99.50 189.89,98.68 190.27,98.22 C190.64,97.76 191.03,97.87 191.38,100.31 C191.73,102.74 192.01,107.73 192.35,112.83 C192.70,117.93 193.07,125.59 193.47,130.92 C193.86,136.26 194.21,141.59 194.72,144.84 C195.23,148.09 196.23,149.48 196.53,150.40 L196.53,149.90 L184.00,149.90 Z" fill="#c6efd6" stroke="none"/>
<path d="M184.00,150.40 C184.47,148.32 186.09,142.98 186.79,137.88 C187.48,132.78 187.78,125.59 188.18,119.79 C188.57,113.99 188.80,106.69 189.15,103.09 C189.50,99.50 189.89,98.68 190.27,98.22 C190.64,97.76 191.03,97.87 191.38,100.31 C191.73,102.74 192.01,107.73 192.35,112.83 C192.70,117.93 193.07,125.59 193.47,130.92 C193.86,136.26 194.21,141.59 194.72,144.84 C195.23,148.09 196.23,149.48 196.53,150.40" fill="none" stroke="#34c27a" stroke-width="0.75"/>
<path d="M185.39,150.40 C185.79,148.32 187.06,143.45 187.76,137.88 C188.46,132.31 189.04,123.04 189.57,117.01 C190.10,110.98 190.50,105.06 190.96,101.70 C191.43,98.34 192.01,98.34 192.35,96.83 C192.70,95.32 192.79,92.54 193.05,92.65 C193.30,92.77 193.54,95.09 193.88,97.52 C194.23,99.96 194.70,103.55 195.14,107.27 C195.58,110.98 195.95,115.62 196.53,119.79 C197.11,123.96 197.80,128.60 198.62,132.31 C199.43,136.03 200.35,139.50 201.40,142.06 C202.44,144.61 203.67,146.25 204.88,147.62 C206.08,148.99 208.01,149.83 208.63,150.27" fill="none" stroke="#2b7896" stroke-width="0.75"/>
<path d="M186.09,150.40 C186.44,148.32 187.55,143.45 188.18,137.88 C188.80,132.31 189.34,123.04 189.85,117.01 C190.36,110.98 190.82,104.83 191.24,101.70 C191.66,98.57 192.05,99.03 192.35,98.22 C192.65,97.41 192.79,96.83 193.05,96.83 C193.30,96.83 193.54,96.48 193.88,98.22 C194.23,99.96 194.70,103.67 195.14,107.27 C195.58,110.86 195.95,115.62 196.53,119.79 C197.11,123.96 197.80,128.60 198.62,132.31 C199.43,136.03 200.35,139.50 201.40,142.06 C202.44,144.61 203.72,146.25 204.88,147.62 C206.04,148.99 207.78,149.83 208.36,150.27" fill="none" stroke="#e2285c" stroke-width="0.75"/>
<path d="M253.48,150.40 C253.83,148.32 254.99,142.98 255.57,137.88 C256.15,132.78 256.50,125.59 256.96,119.79 C257.43,113.99 257.89,106.69 258.35,103.09 C258.82,99.50 259.28,97.52 259.74,98.22 C260.21,98.92 260.67,102.51 261.14,107.27 C261.60,112.02 262.06,120.72 262.53,126.75 C262.99,132.78 263.48,139.50 263.92,143.45 C264.36,147.39 264.96,149.25 265.17,150.40 L265.17,149.90 L253.48,149.90 Z" fill="#c6efd6" stroke="none"/>
<path d="M253.48,150.40 C253.83,148.32 254.99,142.98 255.57,137.88 C256.15,132.78 256.50,125.59 256.96,119.79 C257.43,113.99 257.89,106.69 258.35,103.09 C258.82,99.50 259.28,97.52 259.74,98.22 C260.21,98.92 260.67,102.51 261.14,107.27 C261.60,112.02 262.06,120.72 262.53,126.75 C262.99,132.78 263.48,139.50 263.92,143.45 C264.36,147.39 264.96,149.25 265.17,150.40" fill="none" stroke="#34c27a" stroke-width="0.75"/>
<path d="M251.39,150.40 C251.74,148.78 252.79,145.77 253.48,140.66 C254.18,135.56 254.92,126.28 255.57,119.79 C256.22,113.30 256.80,105.92 257.38,101.70 C257.96,97.48 258.49,94.69 259.05,94.46 C259.61,94.23 260.14,97.48 260.72,100.31 C261.30,103.14 261.83,107.96 262.53,111.44 C263.22,114.92 264.08,117.93 264.89,121.18 C265.71,124.43 266.52,127.68 267.40,130.92 C268.28,134.17 269.14,138.00 270.18,140.66 C271.23,143.33 272.22,145.33 273.66,146.93 C275.10,148.53 277.95,149.71 278.81,150.27" fill="none" stroke="#2b7896" stroke-width="0.75"/>
<path d="M251.39,150.40 C251.74,148.78 252.79,145.77 253.48,140.66 C254.18,135.56 254.92,126.28 255.57,119.79 C256.22,113.30 256.80,105.92 257.38,101.70 C257.96,97.48 258.49,94.69 259.05,94.46 C259.61,94.23 260.14,97.25 260.72,100.31 C261.30,103.37 261.88,108.43 262.53,112.83 C263.18,117.24 263.85,122.34 264.62,126.75 C265.38,131.15 266.31,136.03 267.12,139.27 C267.93,142.52 268.65,144.40 269.49,146.23 C270.32,148.06 271.69,149.59 272.13,150.27" fill="none" stroke="#e2285c" stroke-width="0.75"/>
<rect x="171.50" y="13.90" width="61.30" height="61.40" fill="none" stroke="#3c3c3c" stroke-width="1.1"/>
<rect x="237.60" y="13.90" width="61.70" height="61.40" fill="none" stroke="#3c3c3c" stroke-width="1.1"/>
<rect x="171.50" y="89.20" width="61.30" height="61.40" fill="none" stroke="#3c3c3c" stroke-width="1.1"/>
<rect x="237.60" y="89.20" width="61.70" height="61.40" fill="none" stroke="#3c3c3c" stroke-width="1.1"/>
<text x="171.00" y="85.60" font-size="8.2" text-anchor="start" fill="#231f20" stroke="#231f20" stroke-width="0.17">AhR</text>
<line x1="192.00" y1="82.80" x2="230.00" y2="82.80" stroke="#231f20" stroke-width="0.9"/>
<path d="M229.50,81.00 L233.00,82.80 L229.50,84.60 Z" fill="#231f20"/>
<text x="237.30" y="85.60" font-size="8.2" text-anchor="start" fill="#231f20" stroke="#231f20" stroke-width="0.17">c-MAF</text>
<line x1="266.00" y1="82.80" x2="296.60" y2="82.80" stroke="#231f20" stroke-width="0.9"/>
<path d="M296.10,81.00 L299.60,82.80 L296.10,84.60 Z" fill="#231f20"/>
<text x="170.40" y="161.60" font-size="8.2" text-anchor="start" fill="#231f20" stroke="#231f20" stroke-width="0.17">T-bet</text>
<line x1="192.00" y1="158.80" x2="229.50" y2="158.80" stroke="#231f20" stroke-width="0.9"/>
<path d="M229.00,157.00 L232.50,158.80 L229.00,160.60 Z" fill="#231f20"/>
<text x="235.50" y="161.60" font-size="8.2" text-anchor="start" fill="#231f20" stroke="#231f20" stroke-width="0.17">GATA-3</text>
<line x1="268.00" y1="158.80" x2="296.60" y2="158.80" stroke="#231f20" stroke-width="0.9"/>
<path d="M296.10,157.00 L299.60,158.80 L296.10,160.60 Z" fill="#231f20"/>
<rect x="184.00" y="169.90" width="5.00" height="5.00" fill="#e2285c"/>
<text x="192.00" y="175.00" font-size="7.7" text-anchor="start" fill="#231f20" stroke="#231f20" stroke-width="0.17">N1</text>
<rect x="211.00" y="169.90" width="5.00" height="5.00" fill="#1f6a9a"/>
<text x="218.30" y="175.00" font-size="7.7" text-anchor="start" fill="#231f20" stroke="#231f20" stroke-width="0.17">Control</text>
<rect x="249.20" y="169.90" width="5.00" height="5.00" fill="#34c27a"/>
<text x="257.90" y="175.00" font-size="7.7" text-anchor="start" fill="#231f20" stroke="#231f20" stroke-width="0.17">Isotype</text>
<line x1="57.50" y1="204.50" x2="57.50" y2="309.10" stroke="#231f20" stroke-width="1.1"/>
<line x1="54.50" y1="208.20" x2="57.50" y2="208.20" stroke="#231f20" stroke-width="1.1"/>
<text x="50.90" y="211.15" font-size="8.2" text-anchor="end" fill="#231f20" stroke="#231f20" stroke-width="0.17">6</text>
<line x1="54.50" y1="228.30" x2="57.50" y2="228.30" stroke="#231f20" stroke-width="1.1"/>
<text x="50.90" y="231.25" font-size="8.2" text-anchor="end" fill="#231f20" stroke="#231f20" stroke-width="0.17">4</text>
<line x1="54.50" y1="248.40" x2="57.50" y2="248.40" stroke="#231f20" stroke-width="1.1"/>
<text x="50.90" y="251.35" font-size="8.2" text-anchor="end" fill="#231f20" stroke="#231f20" stroke-width="0.17">2</text>
<line x1="54.50" y1="268.50" x2="57.50" y2="268.50" stroke="#231f20" stroke-width="1.1"/>
<text x="50.90" y="271.45" font-size="8.2" text-anchor="end" fill="#231f20" stroke="#231f20" stroke-width="0.17">0</text>
<line x1="54.50" y1="288.60" x2="57.50" y2="288.60" stroke="#231f20" stroke-width="1.1"/>
<text x="50.90" y="291.55" font-size="8.2" text-anchor="end" fill="#231f20" stroke="#231f20" stroke-width="0.17">–2</text>
<line x1="54.50" y1="308.70" x2="57.50" y2="308.70" stroke="#231f20" stroke-width="1.1"/>
<text x="50.90" y="311.65" font-size="8.2" text-anchor="end" fill="#231f20" stroke="#231f20" stroke-width="0.17">–4</text>
<line x1="57.50" y1="268.50" x2="311.80" y2="268.50" stroke="#231f20" stroke-width="1.1"/>
<line x1="57.50" y1="308.50" x2="311.80" y2="308.50" stroke="#231f20" stroke-width="1.1"/>
<line x1="67.50" y1="308.50" x2="67.50" y2="311.60" stroke="#231f20" stroke-width="1.1"/>
<text x="69.50" y="319.70" font-size="7.8" text-anchor="end" fill="#231f20" stroke="#231f20" stroke-width="0.17" transform="rotate(-45 69.50 319.70)">GzmB</text>
<line x1="89.50" y1="308.50" x2="89.50" y2="311.60" stroke="#231f20" stroke-width="1.1"/>
<text x="90.92" y="319.70" font-size="7.8" text-anchor="end" fill="#231f20" stroke="#231f20" stroke-width="0.17" transform="rotate(-45 90.92 319.70)">IFNγ</text>
<line x1="110.50" y1="308.50" x2="110.50" y2="311.60" stroke="#231f20" stroke-width="1.1"/>
<text x="112.34" y="319.70" font-size="7.8" text-anchor="end" fill="#231f20" stroke="#231f20" stroke-width="0.17" transform="rotate(-45 112.34 319.70)">TNFα</text>
<line x1="131.50" y1="308.50" x2="131.50" y2="311.60" stroke="#231f20" stroke-width="1.1"/>
<text x="133.76" y="319.70" font-size="7.8" text-anchor="end" fill="#231f20" stroke="#231f20" stroke-width="0.17" transform="rotate(-45 133.76 319.70)">GM-CSF</text>
<line x1="153.50" y1="308.50" x2="153.50" y2="311.60" stroke="#231f20" stroke-width="1.1"/>
<text x="155.18" y="319.70" font-size="7.8" text-anchor="end" fill="#231f20" stroke="#231f20" stroke-width="0.17" transform="rotate(-45 155.18 319.70)">IL-2</text>
<line x1="174.50" y1="308.50" x2="174.50" y2="311.60" stroke="#231f20" stroke-width="1.1"/>
<text x="176.60" y="319.70" font-size="7.8" text-anchor="end" fill="#231f20" stroke="#231f20" stroke-width="0.17" transform="rotate(-45 176.60 319.70)">IL-4</text>
<line x1="196.50" y1="308.50" x2="196.50" y2="311.60" stroke="#231f20" stroke-width="1.1"/>
<text x="198.02" y="319.70" font-size="7.8" text-anchor="end" fill="#231f20" stroke="#231f20" stroke-width="0.17" transform="rotate(-45 198.02 319.70)">IL-5</text>
<line x1="217.50" y1="308.50" x2="217.50" y2="311.60" stroke="#231f20" stroke-width="1.1"/>
<text x="219.44" y="319.70" font-size="7.8" text-anchor="end" fill="#231f20" stroke="#231f20" stroke-width="0.17" transform="rotate(-45 219.44 319.70)">IL-13</text>
<line x1="239.50" y1="308.50" x2="239.50" y2="311.60" stroke="#231f20" stroke-width="1.1"/>
<text x="240.86" y="319.70" font-size="7.8" text-anchor="end" fill="#231f20" stroke="#231f20" stroke-width="0.17" transform="rotate(-45 240.86 319.70)">IL-9</text>
<line x1="260.50" y1="308.50" x2="260.50" y2="311.60" stroke="#231f20" stroke-width="1.1"/>
<text x="262.28" y="319.70" font-size="7.8" text-anchor="end" fill="#231f20" stroke="#231f20" stroke-width="0.17" transform="rotate(-45 262.28 319.70)">IL-17</text>
<line x1="281.50" y1="308.50" x2="281.50" y2="311.60" stroke="#231f20" stroke-width="1.1"/>
<text x="283.70" y="319.70" font-size="7.8" text-anchor="end" fill="#231f20" stroke="#231f20" stroke-width="0.17" transform="rotate(-45 283.70 319.70)">IL-21</text>
<line x1="303.50" y1="308.50" x2="303.50" y2="311.60" stroke="#231f20" stroke-width="1.1"/>
<text x="305.12" y="319.70" font-size="7.8" text-anchor="end" fill="#231f20" stroke="#231f20" stroke-width="0.17" transform="rotate(-45 305.12 319.70)">IL-10</text>
<line x1="63.50" y1="283.57" x2="63.50" y2="294.63" stroke="#2e2e2e" stroke-width="1.0"/>
<line x1="61.90" y1="294.63" x2="65.10" y2="294.63" stroke="#2e2e2e" stroke-width="1.1"/>
<rect x="60.80" y="268.50" width="4.60" height="15.07" fill="#e5173f"/>
<text x="63.10" y="303.17" font-size="8.6" text-anchor="middle" fill="#2a2a2a" font-weight="bold">***</text>
<line x1="71.50" y1="279.56" x2="71.50" y2="288.60" stroke="#2e2e2e" stroke-width="1.0"/>
<line x1="69.90" y1="288.60" x2="73.10" y2="288.60" stroke="#2e2e2e" stroke-width="1.1"/>
<rect x="68.80" y="268.50" width="4.60" height="11.06" fill="#1b6c9f"/>
<text x="71.10" y="297.77" font-size="8.6" text-anchor="middle" fill="#2a2a2a" font-weight="bold">***</text>
<line x1="84.50" y1="259.45" x2="84.50" y2="250.91" stroke="#2e2e2e" stroke-width="1.0"/>
<line x1="82.90" y1="250.91" x2="86.10" y2="250.91" stroke="#2e2e2e" stroke-width="1.1"/>
<rect x="82.22" y="259.45" width="4.60" height="9.05" fill="#e5173f"/>
<text x="84.52" y="251.67" font-size="8.6" text-anchor="middle" fill="#2a2a2a" font-weight="bold">**</text>
<line x1="92.50" y1="260.46" x2="92.50" y2="252.92" stroke="#2e2e2e" stroke-width="1.0"/>
<line x1="90.90" y1="252.92" x2="94.10" y2="252.92" stroke="#2e2e2e" stroke-width="1.1"/>
<rect x="90.22" y="260.46" width="4.60" height="8.04" fill="#1b6c9f"/>
<text x="92.52" y="253.47" font-size="8.6" text-anchor="middle" fill="#2a2a2a" font-weight="bold">*</text>
<line x1="105.50" y1="259.45" x2="105.50" y2="250.71" stroke="#2e2e2e" stroke-width="1.0"/>
<line x1="103.90" y1="250.71" x2="107.10" y2="250.71" stroke="#2e2e2e" stroke-width="1.1"/>
<rect x="103.64" y="259.45" width="4.60" height="9.05" fill="#e5173f"/>
<text x="105.94" y="250.87" font-size="8.6" text-anchor="middle" fill="#2a2a2a" font-weight="bold">*</text>
<line x1="113.50" y1="256.24" x2="113.50" y2="248.70" stroke="#2e2e2e" stroke-width="1.0"/>
<line x1="111.90" y1="248.70" x2="115.10" y2="248.70" stroke="#2e2e2e" stroke-width="1.1"/>
<rect x="111.64" y="256.24" width="4.60" height="12.26" fill="#1b6c9f"/>
<text x="113.94" y="249.27" font-size="8.6" text-anchor="middle" fill="#2a2a2a" font-weight="bold">**</text>
<line x1="127.50" y1="260.96" x2="127.50" y2="257.44" stroke="#2e2e2e" stroke-width="1.0"/>
<line x1="125.90" y1="257.44" x2="129.10" y2="257.44" stroke="#2e2e2e" stroke-width="1.1"/>
<rect x="125.06" y="260.96" width="4.60" height="7.54" fill="#e5173f"/>
<text x="127.36" y="257.47" font-size="8.6" text-anchor="middle" fill="#2a2a2a" font-weight="bold">***</text>
<line x1="135.50" y1="257.44" x2="135.50" y2="254.23" stroke="#2e2e2e" stroke-width="1.0"/>
<line x1="133.90" y1="254.23" x2="137.10" y2="254.23" stroke="#2e2e2e" stroke-width="1.1"/>
<rect x="133.06" y="257.44" width="4.60" height="11.06" fill="#1b6c9f"/>
<text x="135.36" y="253.47" font-size="8.6" text-anchor="middle" fill="#2a2a2a" font-weight="bold">****</text>
<line x1="148.50" y1="253.43" x2="148.50" y2="248.40" stroke="#2e2e2e" stroke-width="1.0"/>
<line x1="146.90" y1="248.40" x2="150.10" y2="248.40" stroke="#2e2e2e" stroke-width="1.1"/>
<rect x="146.48" y="253.43" width="4.60" height="15.07" fill="#e5173f"/>
<text x="148.78" y="248.67" font-size="8.6" text-anchor="middle" fill="#2a2a2a" font-weight="bold">****</text>
<line x1="156.50" y1="255.74" x2="156.50" y2="251.41" stroke="#2e2e2e" stroke-width="1.0"/>
<line x1="154.90" y1="251.41" x2="158.10" y2="251.41" stroke="#2e2e2e" stroke-width="1.1"/>
<rect x="154.48" y="255.74" width="4.60" height="12.76" fill="#1b6c9f"/>
<text x="156.78" y="251.97" font-size="8.6" text-anchor="middle" fill="#2a2a2a" font-weight="bold">****</text>
<line x1="170.50" y1="255.74" x2="170.50" y2="248.60" stroke="#2e2e2e" stroke-width="1.0"/>
<line x1="168.90" y1="248.60" x2="172.10" y2="248.60" stroke="#2e2e2e" stroke-width="1.1"/>
<rect x="167.90" y="255.74" width="4.60" height="12.76" fill="#e5173f"/>
<text x="170.20" y="249.07" font-size="8.6" text-anchor="middle" fill="#2a2a2a" font-weight="bold">**</text>
<line x1="178.50" y1="256.94" x2="178.50" y2="248.40" stroke="#2e2e2e" stroke-width="1.0"/>
<line x1="176.90" y1="248.40" x2="180.10" y2="248.40" stroke="#2e2e2e" stroke-width="1.1"/>
<rect x="175.90" y="256.94" width="4.60" height="11.56" fill="#1b6c9f"/>
<text x="178.20" y="249.07" font-size="8.6" text-anchor="middle" fill="#2a2a2a" font-weight="bold">**</text>
<line x1="191.50" y1="268.50" x2="191.50" y2="258.45" stroke="#2e2e2e" stroke-width="1.0"/>
<line x1="189.90" y1="258.45" x2="193.10" y2="258.45" stroke="#2e2e2e" stroke-width="1.1"/>
<text x="191.62" y="255.82" font-size="8.0" text-anchor="middle" fill="#333" stroke="#333" stroke-width="0.17" font-style="italic" textLength="11.2" lengthAdjust="spacingAndGlyphs">n.s.</text>
<line x1="199.50" y1="269.50" x2="199.50" y2="282.57" stroke="#2e2e2e" stroke-width="1.0"/>
<line x1="197.90" y1="282.57" x2="201.10" y2="282.57" stroke="#2e2e2e" stroke-width="1.1"/>
<rect x="197.32" y="268.50" width="4.60" height="1.00" fill="#1b6c9f"/>
<text x="199.62" y="290.52" font-size="8.0" text-anchor="middle" fill="#333" stroke="#333" stroke-width="0.17" font-style="italic" textLength="11.2" lengthAdjust="spacingAndGlyphs">n.s.</text>
<line x1="213.50" y1="262.97" x2="213.50" y2="255.44" stroke="#2e2e2e" stroke-width="1.0"/>
<line x1="211.90" y1="255.44" x2="215.10" y2="255.44" stroke="#2e2e2e" stroke-width="1.1"/>
<rect x="210.74" y="262.97" width="4.60" height="5.53" fill="#e5173f"/>
<text x="213.04" y="255.47" font-size="8.6" text-anchor="middle" fill="#2a2a2a" font-weight="bold">*</text>
<line x1="221.50" y1="261.77" x2="221.50" y2="250.91" stroke="#2e2e2e" stroke-width="1.0"/>
<line x1="219.90" y1="250.91" x2="223.10" y2="250.91" stroke="#2e2e2e" stroke-width="1.1"/>
<rect x="218.74" y="261.77" width="4.60" height="6.73" fill="#1b6c9f"/>
<text x="221.04" y="251.77" font-size="8.6" text-anchor="middle" fill="#2a2a2a" font-weight="bold">*</text>
<line x1="234.50" y1="249.41" x2="234.50" y2="242.37" stroke="#2e2e2e" stroke-width="1.0"/>
<line x1="232.90" y1="242.37" x2="236.10" y2="242.37" stroke="#2e2e2e" stroke-width="1.1"/>
<rect x="232.16" y="249.41" width="4.60" height="19.09" fill="#e5173f"/>
<text x="234.46" y="240.67" font-size="8.6" text-anchor="middle" fill="#2a2a2a" font-weight="bold">****</text>
<line x1="242.50" y1="259.96" x2="242.50" y2="246.39" stroke="#2e2e2e" stroke-width="1.0"/>
<line x1="240.90" y1="246.39" x2="244.10" y2="246.39" stroke="#2e2e2e" stroke-width="1.1"/>
<rect x="240.16" y="259.96" width="4.60" height="8.54" fill="#1b6c9f"/>
<text x="242.46" y="244.12" font-size="8.0" text-anchor="middle" fill="#333" stroke="#333" stroke-width="0.17" font-style="italic" textLength="11.2" lengthAdjust="spacingAndGlyphs">n.s.</text>
<line x1="255.50" y1="253.43" x2="255.50" y2="240.36" stroke="#2e2e2e" stroke-width="1.0"/>
<line x1="253.90" y1="240.36" x2="257.10" y2="240.36" stroke="#2e2e2e" stroke-width="1.1"/>
<rect x="253.58" y="253.43" width="4.60" height="15.07" fill="#e5173f"/>
<text x="255.88" y="240.57" font-size="8.6" text-anchor="middle" fill="#2a2a2a" font-weight="bold">*</text>
<line x1="263.50" y1="242.37" x2="263.50" y2="221.26" stroke="#2e2e2e" stroke-width="1.0"/>
<line x1="261.90" y1="221.26" x2="265.10" y2="221.26" stroke="#2e2e2e" stroke-width="1.1"/>
<rect x="261.58" y="242.37" width="4.60" height="26.13" fill="#1b6c9f"/>
<text x="263.88" y="221.47" font-size="8.6" text-anchor="middle" fill="#2a2a2a" font-weight="bold">**</text>
<line x1="277.50" y1="268.50" x2="277.50" y2="264.28" stroke="#2e2e2e" stroke-width="1.0"/>
<line x1="275.90" y1="264.28" x2="279.10" y2="264.28" stroke="#2e2e2e" stroke-width="1.1"/>
<text x="277.30" y="257.92" font-size="8.0" text-anchor="middle" fill="#333" stroke="#333" stroke-width="0.17" font-style="italic" textLength="11.2" lengthAdjust="spacingAndGlyphs">n.s.</text>
<line x1="285.50" y1="268.50" x2="285.50" y2="265.18" stroke="#2e2e2e" stroke-width="1.0"/>
<line x1="283.90" y1="265.18" x2="287.10" y2="265.18" stroke="#2e2e2e" stroke-width="1.1"/>
<text x="285.30" y="263.22" font-size="8.0" text-anchor="middle" fill="#333" stroke="#333" stroke-width="0.17" font-style="italic" textLength="11.2" lengthAdjust="spacingAndGlyphs">n.s.</text>
<line x1="298.50" y1="282.57" x2="298.50" y2="288.60" stroke="#2e2e2e" stroke-width="1.0"/>
<line x1="296.90" y1="288.60" x2="300.10" y2="288.60" stroke="#2e2e2e" stroke-width="1.1"/>
<rect x="296.42" y="268.50" width="4.60" height="14.07" fill="#e5173f"/>
<text x="297.10" y="297.77" font-size="8.6" text-anchor="middle" fill="#2a2a2a" font-weight="bold">***</text>
<line x1="306.50" y1="281.87" x2="306.50" y2="288.10" stroke="#2e2e2e" stroke-width="1.0"/>
<line x1="304.90" y1="288.10" x2="308.10" y2="288.10" stroke="#2e2e2e" stroke-width="1.1"/>
<rect x="304.42" y="268.50" width="4.60" height="13.37" fill="#1b6c9f"/>
<text x="309.20" y="297.77" font-size="8.6" text-anchor="middle" fill="#2a2a2a" font-weight="bold">***</text>
<text x="25.80" y="256.80" font-size="8.3" text-anchor="middle" fill="#231f20" stroke="#231f20" stroke-width="0.17" transform="rotate(-90 25.80 256.80)" textLength="99.5" lengthAdjust="spacingAndGlyphs">Log<tspan font-size="5.8" dy="1.6">2</tspan><tspan dy="-1.6">(5μM CH-223191/DMSO)</tspan></text>
<text x="34.60" y="257.00" font-size="8.3" text-anchor="middle" fill="#231f20" stroke="#231f20" stroke-width="0.17" transform="rotate(-90 34.60 257.00)" textLength="48.5" lengthAdjust="spacingAndGlyphs">pg/ml cytokine</text>
<rect x="65.10" y="204.00" width="4.50" height="4.60" fill="#e5173f"/>
<text x="73.80" y="208.90" font-size="7.8" text-anchor="start" fill="#231f20" stroke="#231f20" stroke-width="0.17" textLength="36.4" lengthAdjust="spacingAndGlyphs">Raji CD19+</text>
<rect x="65.10" y="214.70" width="4.50" height="4.60" fill="#1b6c9f"/>
<text x="73.80" y="219.60" font-size="7.8" text-anchor="start" fill="#231f20" stroke="#231f20" stroke-width="0.17" textLength="41.8" lengthAdjust="spacingAndGlyphs">K562 CD19+</text>
<line x1="384.50" y1="232.50" x2="384.50" y2="309.00" stroke="#231f20" stroke-width="1.1"/>
<line x1="381.50" y1="234.70" x2="384.50" y2="234.70" stroke="#231f20" stroke-width="1.1"/>
<text x="378.00" y="237.70" font-size="8.4" text-anchor="end" fill="#231f20" stroke="#231f20" stroke-width="0.17" textLength="15.0" lengthAdjust="spacingAndGlyphs">15%</text>
<line x1="381.50" y1="259.30" x2="384.50" y2="259.30" stroke="#231f20" stroke-width="1.1"/>
<text x="378.00" y="262.30" font-size="8.4" text-anchor="end" fill="#231f20" stroke="#231f20" stroke-width="0.17" textLength="15.0" lengthAdjust="spacingAndGlyphs">10%</text>
<line x1="381.50" y1="283.90" x2="384.50" y2="283.90" stroke="#231f20" stroke-width="1.1"/>
<text x="378.00" y="286.90" font-size="8.4" text-anchor="end" fill="#231f20" stroke="#231f20" stroke-width="0.17" textLength="11.3" lengthAdjust="spacingAndGlyphs">5%</text>
<line x1="381.50" y1="308.50" x2="384.50" y2="308.50" stroke="#231f20" stroke-width="1.1"/>
<text x="378.00" y="311.50" font-size="8.4" text-anchor="end" fill="#231f20" stroke="#231f20" stroke-width="0.17" textLength="11.3" lengthAdjust="spacingAndGlyphs">0%</text>
<line x1="384.50" y1="308.50" x2="453.20" y2="308.50" stroke="#231f20" stroke-width="1.1"/>
<line x1="400.40" y1="308.50" x2="400.40" y2="311.30" stroke="#231f20" stroke-width="1"/>
<line x1="437.20" y1="308.50" x2="437.20" y2="311.30" stroke="#231f20" stroke-width="1"/>
<rect x="389.20" y="286.85" width="8.00" height="21.65" fill="#f5a3b3"/>
<rect x="426.20" y="280.95" width="7.80" height="27.55" fill="#f5a3b3"/>
<line x1="392.90" y1="275.04" x2="408.20" y2="308.25" stroke="#111" stroke-width="0.9"/>
<line x1="392.90" y1="280.46" x2="408.20" y2="308.25" stroke="#111" stroke-width="0.9"/>
<line x1="392.90" y1="282.42" x2="408.20" y2="308.25" stroke="#111" stroke-width="0.9"/>
<line x1="392.90" y1="291.28" x2="408.20" y2="308.25" stroke="#111" stroke-width="0.9"/>
<line x1="392.90" y1="300.63" x2="408.20" y2="308.25" stroke="#111" stroke-width="0.9"/>
<line x1="429.80" y1="258.32" x2="444.80" y2="307.02" stroke="#111" stroke-width="0.9"/>
<line x1="429.80" y1="272.09" x2="444.80" y2="304.56" stroke="#111" stroke-width="0.9"/>
<line x1="429.80" y1="283.90" x2="444.80" y2="306.04" stroke="#111" stroke-width="0.9"/>
<line x1="429.80" y1="286.85" x2="444.80" y2="307.52" stroke="#111" stroke-width="0.9"/>
<line x1="429.80" y1="289.80" x2="444.80" y2="303.58" stroke="#111" stroke-width="0.9"/>
<line x1="429.80" y1="292.76" x2="444.80" y2="305.55" stroke="#111" stroke-width="0.9"/>
<circle cx="392.9" cy="275.04" r="2.3" fill="#e0144a"/>
<circle cx="392.9" cy="280.46" r="2.3" fill="#e0144a"/>
<circle cx="392.9" cy="282.42" r="2.3" fill="#e0144a"/>
<circle cx="392.9" cy="291.28" r="2.3" fill="#e0144a"/>
<circle cx="392.9" cy="300.63" r="2.3" fill="#e0144a"/>
<circle cx="429.8" cy="258.32" r="2.3" fill="#e0144a"/>
<circle cx="429.8" cy="272.09" r="2.3" fill="#e0144a"/>
<circle cx="429.8" cy="283.90" r="2.3" fill="#e0144a"/>
<circle cx="429.8" cy="286.85" r="2.3" fill="#e0144a"/>
<circle cx="429.8" cy="289.80" r="2.3" fill="#e0144a"/>
<circle cx="429.8" cy="292.76" r="2.3" fill="#e0144a"/>
<circle cx="408.2" cy="308.25" r="2.4" fill="#15698c"/>
<circle cx="444.8" cy="307.02" r="2.3" fill="#15698c"/>
<circle cx="444.8" cy="304.56" r="2.3" fill="#15698c"/>
<circle cx="444.8" cy="306.04" r="2.3" fill="#15698c"/>
<circle cx="444.8" cy="307.52" r="2.3" fill="#15698c"/>
<circle cx="444.8" cy="303.58" r="2.3" fill="#15698c"/>
<circle cx="444.8" cy="305.55" r="2.3" fill="#15698c"/>
<path d="M392.60,247.8 L392.60,244.8 L408.40,244.8 L408.40,247.8" fill="none" stroke="#333" stroke-width="0.9"/>
<text x="400.50" y="244.57" font-size="8.6" text-anchor="middle" fill="#2a2a2a" font-weight="bold">****</text>
<path d="M429.80,247.8 L429.80,244.8 L444.90,244.8 L444.90,247.8" fill="none" stroke="#333" stroke-width="0.9"/>
<text x="437.35" y="244.57" font-size="8.6" text-anchor="middle" fill="#2a2a2a" font-weight="bold">***</text>
<text x="356.20" y="271.40" font-size="8.3" text-anchor="middle" fill="#231f20" stroke="#231f20" stroke-width="0.17" transform="rotate(-90 356.20 271.40)" textLength="80.0" lengthAdjust="spacingAndGlyphs">IL-22+ of CD4+ EGFRt+</text>
<text x="400.20" y="321.40" font-size="7.9" text-anchor="middle" fill="#231f20" stroke="#231f20" stroke-width="0.17">Raji</text>
<text x="400.20" y="330.30" font-size="7.9" text-anchor="middle" fill="#231f20" stroke="#231f20" stroke-width="0.17" textLength="24.4" lengthAdjust="spacingAndGlyphs">CD19+</text>
<text x="437.40" y="321.40" font-size="7.9" text-anchor="middle" fill="#231f20" stroke="#231f20" stroke-width="0.17">PMA/</text>
<text x="437.60" y="330.30" font-size="7.9" text-anchor="middle" fill="#231f20" stroke="#231f20" stroke-width="0.17" textLength="36.6" lengthAdjust="spacingAndGlyphs">Ionomycin</text>
<circle cx="463.6" cy="266.2" r="2.2" fill="#e0144a"/>
<text x="468.60" y="268.90" font-size="7.6" text-anchor="start" fill="#231f20" stroke="#231f20" stroke-width="0.17">N1 + DMSO</text>
<circle cx="463.6" cy="277.0" r="2.2" fill="#15698c"/>
<text x="468.60" y="279.70" font-size="7.6" text-anchor="start" fill="#231f20" stroke="#231f20" stroke-width="0.17">N1 + 5μM</text>
<text x="468.60" y="288.50" font-size="7.6" text-anchor="start" fill="#231f20" stroke="#231f20" stroke-width="0.17">CH-223191</text>
<line x1="57.50" y1="364.80" x2="57.50" y2="469.10" stroke="#231f20" stroke-width="1.1"/>
<line x1="54.50" y1="369.30" x2="57.50" y2="369.30" stroke="#231f20" stroke-width="1.1"/>
<text x="50.90" y="372.25" font-size="8.2" text-anchor="end" fill="#231f20" stroke="#231f20" stroke-width="0.17">2</text>
<line x1="54.50" y1="385.90" x2="57.50" y2="385.90" stroke="#231f20" stroke-width="1.1"/>
<text x="50.90" y="388.85" font-size="8.2" text-anchor="end" fill="#231f20" stroke="#231f20" stroke-width="0.17">1</text>
<line x1="54.50" y1="402.50" x2="57.50" y2="402.50" stroke="#231f20" stroke-width="1.1"/>
<text x="50.90" y="405.45" font-size="8.2" text-anchor="end" fill="#231f20" stroke="#231f20" stroke-width="0.17">0</text>
<line x1="54.50" y1="419.10" x2="57.50" y2="419.10" stroke="#231f20" stroke-width="1.1"/>
<text x="50.90" y="422.05" font-size="8.2" text-anchor="end" fill="#231f20" stroke="#231f20" stroke-width="0.17">–1</text>
<line x1="54.50" y1="435.70" x2="57.50" y2="435.70" stroke="#231f20" stroke-width="1.1"/>
<text x="50.90" y="438.65" font-size="8.2" text-anchor="end" fill="#231f20" stroke="#231f20" stroke-width="0.17">–2</text>
<line x1="54.50" y1="452.30" x2="57.50" y2="452.30" stroke="#231f20" stroke-width="1.1"/>
<text x="50.90" y="455.25" font-size="8.2" text-anchor="end" fill="#231f20" stroke="#231f20" stroke-width="0.17">–3</text>
<line x1="54.50" y1="468.90" x2="57.50" y2="468.90" stroke="#231f20" stroke-width="1.1"/>
<text x="50.90" y="471.85" font-size="8.2" text-anchor="end" fill="#231f20" stroke="#231f20" stroke-width="0.17">–4</text>
<line x1="57.50" y1="402.50" x2="311.80" y2="402.50" stroke="#231f20" stroke-width="1.1"/>
<line x1="57.50" y1="468.50" x2="311.80" y2="468.50" stroke="#231f20" stroke-width="1.1"/>
<line x1="67.50" y1="468.50" x2="67.50" y2="471.60" stroke="#231f20" stroke-width="1.1"/>
<text x="69.50" y="479.50" font-size="7.8" text-anchor="end" fill="#231f20" stroke="#231f20" stroke-width="0.17" transform="rotate(-45 69.50 479.50)">GzmB</text>
<line x1="89.50" y1="468.50" x2="89.50" y2="471.60" stroke="#231f20" stroke-width="1.1"/>
<text x="90.92" y="479.50" font-size="7.8" text-anchor="end" fill="#231f20" stroke="#231f20" stroke-width="0.17" transform="rotate(-45 90.92 479.50)">IFNγ</text>
<line x1="110.50" y1="468.50" x2="110.50" y2="471.60" stroke="#231f20" stroke-width="1.1"/>
<text x="112.34" y="479.50" font-size="7.8" text-anchor="end" fill="#231f20" stroke="#231f20" stroke-width="0.17" transform="rotate(-45 112.34 479.50)">TNFα</text>
<line x1="131.50" y1="468.50" x2="131.50" y2="471.60" stroke="#231f20" stroke-width="1.1"/>
<text x="133.76" y="479.50" font-size="7.8" text-anchor="end" fill="#231f20" stroke="#231f20" stroke-width="0.17" transform="rotate(-45 133.76 479.50)">GM-CSF</text>
<line x1="153.50" y1="468.50" x2="153.50" y2="471.60" stroke="#231f20" stroke-width="1.1"/>
<text x="155.18" y="479.50" font-size="7.8" text-anchor="end" fill="#231f20" stroke="#231f20" stroke-width="0.17" transform="rotate(-45 155.18 479.50)">IL-2</text>
<line x1="174.50" y1="468.50" x2="174.50" y2="471.60" stroke="#231f20" stroke-width="1.1"/>
<text x="176.60" y="479.50" font-size="7.8" text-anchor="end" fill="#231f20" stroke="#231f20" stroke-width="0.17" transform="rotate(-45 176.60 479.50)">IL-4</text>
<line x1="196.50" y1="468.50" x2="196.50" y2="471.60" stroke="#231f20" stroke-width="1.1"/>
<text x="198.02" y="479.50" font-size="7.8" text-anchor="end" fill="#231f20" stroke="#231f20" stroke-width="0.17" transform="rotate(-45 198.02 479.50)">IL-5</text>
<line x1="217.50" y1="468.50" x2="217.50" y2="471.60" stroke="#231f20" stroke-width="1.1"/>
<text x="219.44" y="479.50" font-size="7.8" text-anchor="end" fill="#231f20" stroke="#231f20" stroke-width="0.17" transform="rotate(-45 219.44 479.50)">IL-13</text>
<line x1="239.50" y1="468.50" x2="239.50" y2="471.60" stroke="#231f20" stroke-width="1.1"/>
<text x="240.86" y="479.50" font-size="7.8" text-anchor="end" fill="#231f20" stroke="#231f20" stroke-width="0.17" transform="rotate(-45 240.86 479.50)">IL-9</text>
<line x1="260.50" y1="468.50" x2="260.50" y2="471.60" stroke="#231f20" stroke-width="1.1"/>
<text x="262.28" y="479.50" font-size="7.8" text-anchor="end" fill="#231f20" stroke="#231f20" stroke-width="0.17" transform="rotate(-45 262.28 479.50)">IL-17</text>
<line x1="281.50" y1="468.50" x2="281.50" y2="471.60" stroke="#231f20" stroke-width="1.1"/>
<text x="283.70" y="479.50" font-size="7.8" text-anchor="end" fill="#231f20" stroke="#231f20" stroke-width="0.17" transform="rotate(-45 283.70 479.50)">IL-21</text>
<line x1="303.50" y1="468.50" x2="303.50" y2="471.60" stroke="#231f20" stroke-width="1.1"/>
<text x="305.12" y="479.50" font-size="7.8" text-anchor="end" fill="#231f20" stroke="#231f20" stroke-width="0.17" transform="rotate(-45 305.12 479.50)">IL-10</text>
<line x1="63.50" y1="397.52" x2="63.50" y2="388.39" stroke="#2e2e2e" stroke-width="1.0"/>
<line x1="61.90" y1="388.39" x2="65.10" y2="388.39" stroke="#2e2e2e" stroke-width="1.1"/>
<rect x="60.80" y="397.52" width="4.60" height="4.98" fill="#e5173f"/>
<text x="63.10" y="385.52" font-size="8.0" text-anchor="middle" fill="#333" stroke="#333" stroke-width="0.17" font-style="italic" textLength="11.2" lengthAdjust="spacingAndGlyphs">n.s.</text>
<line x1="71.50" y1="402.50" x2="71.50" y2="409.97" stroke="#2e2e2e" stroke-width="1.0"/>
<line x1="69.90" y1="409.97" x2="73.10" y2="409.97" stroke="#2e2e2e" stroke-width="1.1"/>
<text x="71.10" y="416.62" font-size="8.0" text-anchor="middle" fill="#333" stroke="#333" stroke-width="0.17" font-style="italic" textLength="11.2" lengthAdjust="spacingAndGlyphs">n.s.</text>
<line x1="84.50" y1="395.03" x2="84.50" y2="387.23" stroke="#2e2e2e" stroke-width="1.0"/>
<line x1="82.90" y1="387.23" x2="86.10" y2="387.23" stroke="#2e2e2e" stroke-width="1.1"/>
<rect x="82.22" y="395.03" width="4.60" height="7.47" fill="#e5173f"/>
<text x="84.52" y="385.12" font-size="8.0" text-anchor="middle" fill="#333" stroke="#333" stroke-width="0.17" font-style="italic" textLength="11.2" lengthAdjust="spacingAndGlyphs">n.s.</text>
<line x1="92.50" y1="402.50" x2="92.50" y2="407.48" stroke="#2e2e2e" stroke-width="1.0"/>
<line x1="90.90" y1="407.48" x2="94.10" y2="407.48" stroke="#2e2e2e" stroke-width="1.1"/>
<text x="92.52" y="413.72" font-size="8.0" text-anchor="middle" fill="#333" stroke="#333" stroke-width="0.17" font-style="italic" textLength="11.2" lengthAdjust="spacingAndGlyphs">n.s.</text>
<line x1="105.50" y1="406.15" x2="105.50" y2="412.46" stroke="#2e2e2e" stroke-width="1.0"/>
<line x1="103.90" y1="412.46" x2="107.10" y2="412.46" stroke="#2e2e2e" stroke-width="1.1"/>
<rect x="103.64" y="402.50" width="4.60" height="3.65" fill="#e5173f"/>
<text x="105.94" y="419.22" font-size="8.0" text-anchor="middle" fill="#333" stroke="#333" stroke-width="0.17" font-style="italic" textLength="11.2" lengthAdjust="spacingAndGlyphs">n.s.</text>
<line x1="113.50" y1="409.14" x2="113.50" y2="412.79" stroke="#2e2e2e" stroke-width="1.0"/>
<line x1="111.90" y1="412.79" x2="115.10" y2="412.79" stroke="#2e2e2e" stroke-width="1.1"/>
<rect x="111.64" y="402.50" width="4.60" height="6.64" fill="#1b6c9f"/>
<text x="113.94" y="428.77" font-size="8.6" text-anchor="middle" fill="#2a2a2a" font-weight="bold">**</text>
<line x1="127.50" y1="395.86" x2="127.50" y2="388.39" stroke="#2e2e2e" stroke-width="1.0"/>
<line x1="125.90" y1="388.39" x2="129.10" y2="388.39" stroke="#2e2e2e" stroke-width="1.1"/>
<rect x="125.06" y="395.86" width="4.60" height="6.64" fill="#e5173f"/>
<text x="127.36" y="385.52" font-size="8.0" text-anchor="middle" fill="#333" stroke="#333" stroke-width="0.17" font-style="italic" textLength="11.2" lengthAdjust="spacingAndGlyphs">n.s.</text>
<line x1="135.50" y1="402.50" x2="135.50" y2="407.48" stroke="#2e2e2e" stroke-width="1.0"/>
<line x1="133.90" y1="407.48" x2="137.10" y2="407.48" stroke="#2e2e2e" stroke-width="1.1"/>
<text x="135.36" y="414.12" font-size="8.0" text-anchor="middle" fill="#333" stroke="#333" stroke-width="0.17" font-style="italic" textLength="11.2" lengthAdjust="spacingAndGlyphs">n.s.</text>
<line x1="148.50" y1="405.82" x2="148.50" y2="410.80" stroke="#2e2e2e" stroke-width="1.0"/>
<line x1="146.90" y1="410.80" x2="150.10" y2="410.80" stroke="#2e2e2e" stroke-width="1.1"/>
<rect x="146.48" y="402.50" width="4.60" height="3.32" fill="#e5173f"/>
<text x="148.78" y="418.52" font-size="8.0" text-anchor="middle" fill="#333" stroke="#333" stroke-width="0.17" font-style="italic" textLength="11.2" lengthAdjust="spacingAndGlyphs">n.s.</text>
<line x1="156.50" y1="406.15" x2="156.50" y2="409.97" stroke="#2e2e2e" stroke-width="1.0"/>
<line x1="154.90" y1="409.97" x2="158.10" y2="409.97" stroke="#2e2e2e" stroke-width="1.1"/>
<rect x="154.48" y="402.50" width="4.60" height="3.65" fill="#1b6c9f"/>
<text x="156.78" y="417.57" font-size="8.6" text-anchor="middle" fill="#2a2a2a" font-weight="bold">**</text>
<line x1="170.50" y1="419.93" x2="170.50" y2="427.40" stroke="#2e2e2e" stroke-width="1.0"/>
<line x1="168.90" y1="427.40" x2="172.10" y2="427.40" stroke="#2e2e2e" stroke-width="1.1"/>
<rect x="167.90" y="402.50" width="4.60" height="17.43" fill="#e5173f"/>
<text x="170.20" y="436.27" font-size="8.6" text-anchor="middle" fill="#2a2a2a" font-weight="bold">**</text>
<line x1="178.50" y1="425.74" x2="178.50" y2="431.55" stroke="#2e2e2e" stroke-width="1.0"/>
<line x1="176.90" y1="431.55" x2="180.10" y2="431.55" stroke="#2e2e2e" stroke-width="1.1"/>
<rect x="175.90" y="402.50" width="4.60" height="23.24" fill="#1b6c9f"/>
<text x="178.20" y="439.97" font-size="8.6" text-anchor="middle" fill="#2a2a2a" font-weight="bold">***</text>
<line x1="191.50" y1="399.18" x2="191.50" y2="386.73" stroke="#2e2e2e" stroke-width="1.0"/>
<line x1="189.90" y1="386.73" x2="193.10" y2="386.73" stroke="#2e2e2e" stroke-width="1.1"/>
<rect x="189.32" y="399.18" width="4.60" height="3.32" fill="#e5173f"/>
<text x="191.62" y="382.92" font-size="8.0" text-anchor="middle" fill="#333" stroke="#333" stroke-width="0.17" font-style="italic" textLength="11.2" lengthAdjust="spacingAndGlyphs">n.s.</text>
<line x1="199.50" y1="402.50" x2="199.50" y2="417.44" stroke="#2e2e2e" stroke-width="1.0"/>
<line x1="197.90" y1="417.44" x2="201.10" y2="417.44" stroke="#2e2e2e" stroke-width="1.1"/>
<text x="199.62" y="424.62" font-size="8.0" text-anchor="middle" fill="#333" stroke="#333" stroke-width="0.17" font-style="italic" textLength="11.2" lengthAdjust="spacingAndGlyphs">n.s.</text>
<line x1="213.50" y1="400.51" x2="213.50" y2="394.70" stroke="#2e2e2e" stroke-width="1.0"/>
<line x1="211.90" y1="394.70" x2="215.10" y2="394.70" stroke="#2e2e2e" stroke-width="1.1"/>
<rect x="210.74" y="400.51" width="4.60" height="1.99" fill="#e5173f"/>
<text x="213.04" y="391.22" font-size="8.0" text-anchor="middle" fill="#333" stroke="#333" stroke-width="0.17" font-style="italic" textLength="11.2" lengthAdjust="spacingAndGlyphs">n.s.</text>
<rect x="218.74" y="401.84" width="4.60" height="0.66" fill="#1b6c9f"/>
<text x="221.04" y="399.02" font-size="8.0" text-anchor="middle" fill="#333" stroke="#333" stroke-width="0.17" font-style="italic" textLength="11.2" lengthAdjust="spacingAndGlyphs">n.s.</text>
<line x1="234.50" y1="402.50" x2="234.50" y2="404.49" stroke="#2e2e2e" stroke-width="1.0"/>
<line x1="232.90" y1="404.49" x2="236.10" y2="404.49" stroke="#2e2e2e" stroke-width="1.1"/>
<text x="234.46" y="413.72" font-size="8.0" text-anchor="middle" fill="#333" stroke="#333" stroke-width="0.17" font-style="italic" textLength="11.2" lengthAdjust="spacingAndGlyphs">n.s.</text>
<line x1="242.50" y1="404.49" x2="242.50" y2="411.63" stroke="#2e2e2e" stroke-width="1.0"/>
<line x1="240.90" y1="411.63" x2="244.10" y2="411.63" stroke="#2e2e2e" stroke-width="1.1"/>
<rect x="240.16" y="402.50" width="4.60" height="1.99" fill="#1b6c9f"/>
<text x="242.46" y="419.22" font-size="8.0" text-anchor="middle" fill="#333" stroke="#333" stroke-width="0.17" font-style="italic" textLength="11.2" lengthAdjust="spacingAndGlyphs">n.s.</text>
<line x1="255.50" y1="427.40" x2="255.50" y2="440.68" stroke="#2e2e2e" stroke-width="1.0"/>
<line x1="253.90" y1="440.68" x2="257.10" y2="440.68" stroke="#2e2e2e" stroke-width="1.1"/>
<rect x="253.58" y="402.50" width="4.60" height="24.90" fill="#e5173f"/>
<text x="255.88" y="449.77" font-size="8.6" text-anchor="middle" fill="#2a2a2a" font-weight="bold">**</text>
<line x1="263.50" y1="435.70" x2="263.50" y2="451.47" stroke="#2e2e2e" stroke-width="1.0"/>
<line x1="261.90" y1="451.47" x2="265.10" y2="451.47" stroke="#2e2e2e" stroke-width="1.1"/>
<rect x="261.58" y="402.50" width="4.60" height="33.20" fill="#1b6c9f"/>
<text x="263.88" y="459.97" font-size="8.6" text-anchor="middle" fill="#2a2a2a" font-weight="bold">**</text>
<text x="281.60" y="398.20" font-size="8.0" text-anchor="middle" fill="#333" stroke="#333" stroke-width="0.17" font-style="italic" textLength="11.6" lengthAdjust="spacingAndGlyphs">n.d.</text>
<line x1="298.50" y1="439.85" x2="298.50" y2="449.81" stroke="#2e2e2e" stroke-width="1.0"/>
<line x1="296.90" y1="449.81" x2="300.10" y2="449.81" stroke="#2e2e2e" stroke-width="1.1"/>
<rect x="296.42" y="402.50" width="4.60" height="37.35" fill="#e5173f"/>
<text x="298.72" y="459.57" font-size="8.6" text-anchor="middle" fill="#2a2a2a" font-weight="bold">***</text>
<line x1="306.50" y1="437.36" x2="306.50" y2="444.00" stroke="#2e2e2e" stroke-width="1.0"/>
<line x1="304.90" y1="444.00" x2="308.10" y2="444.00" stroke="#2e2e2e" stroke-width="1.1"/>
<rect x="304.42" y="402.50" width="4.60" height="34.86" fill="#1b6c9f"/>
<text x="306.72" y="452.77" font-size="8.6" text-anchor="middle" fill="#2a2a2a" font-weight="bold">****</text>
<text x="25.80" y="419.20" font-size="8.3" text-anchor="middle" fill="#231f20" stroke="#231f20" stroke-width="0.17" transform="rotate(-90 25.80 419.20)" textLength="79.0" lengthAdjust="spacingAndGlyphs">Log<tspan font-size="5.8" dy="1.6">2</tspan><tspan dy="-1.6">(shRNA/Scramble)</tspan></text>
<text x="34.60" y="417.60" font-size="8.3" text-anchor="middle" fill="#231f20" stroke="#231f20" stroke-width="0.17" transform="rotate(-90 34.60 417.60)" textLength="49.5" lengthAdjust="spacingAndGlyphs">pg/ml cytokine</text>
<rect x="65.20" y="449.80" width="4.80" height="4.60" fill="#e5173f"/>
<text x="72.80" y="454.20" font-size="7.6" text-anchor="start" fill="#231f20" stroke="#231f20" stroke-width="0.17">α<tspan font-style="italic">Maf</tspan> #1</text>
<rect x="65.20" y="459.00" width="4.80" height="4.60" fill="#1b6c9f"/>
<text x="72.80" y="463.10" font-size="7.6" text-anchor="start" fill="#231f20" stroke="#231f20" stroke-width="0.17">α<tspan font-style="italic">Maf</tspan> #2</text>
<line x1="384.50" y1="381.50" x2="384.50" y2="469.00" stroke="#231f20" stroke-width="1.1"/>
<line x1="381.50" y1="384.90" x2="384.50" y2="384.90" stroke="#231f20" stroke-width="1.1"/>
<text x="377.90" y="387.90" font-size="8.4" text-anchor="end" fill="#231f20" stroke="#231f20" stroke-width="0.17" textLength="11.4" lengthAdjust="spacingAndGlyphs">8%</text>
<line x1="381.50" y1="405.80" x2="384.50" y2="405.80" stroke="#231f20" stroke-width="1.1"/>
<text x="377.90" y="408.80" font-size="8.4" text-anchor="end" fill="#231f20" stroke="#231f20" stroke-width="0.17" textLength="11.4" lengthAdjust="spacingAndGlyphs">6%</text>
<line x1="381.50" y1="426.70" x2="384.50" y2="426.70" stroke="#231f20" stroke-width="1.1"/>
<text x="377.90" y="429.70" font-size="8.4" text-anchor="end" fill="#231f20" stroke="#231f20" stroke-width="0.17" textLength="11.4" lengthAdjust="spacingAndGlyphs">4%</text>
<line x1="381.50" y1="447.60" x2="384.50" y2="447.60" stroke="#231f20" stroke-width="1.1"/>
<text x="377.90" y="450.60" font-size="8.4" text-anchor="end" fill="#231f20" stroke="#231f20" stroke-width="0.17" textLength="11.4" lengthAdjust="spacingAndGlyphs">2%</text>
<line x1="381.50" y1="468.50" x2="384.50" y2="468.50" stroke="#231f20" stroke-width="1.1"/>
<text x="377.90" y="471.50" font-size="8.4" text-anchor="end" fill="#231f20" stroke="#231f20" stroke-width="0.17" textLength="11.4" lengthAdjust="spacingAndGlyphs">0%</text>
<line x1="384.50" y1="468.50" x2="447.50" y2="468.50" stroke="#231f20" stroke-width="1.1"/>
<line x1="418.60" y1="468.60" x2="418.60" y2="471.40" stroke="#231f20" stroke-width="1"/>
<rect x="391.50" y="432.45" width="11.90" height="36.15" fill="#f7a3b2"/>
<rect x="412.60" y="432.45" width="11.90" height="36.15" fill="#8fb8d8"/>
<rect x="434.00" y="439.76" width="11.90" height="28.84" fill="#96e2ac"/>
<polyline points="397.5,399.53 418.5,396.39 440.0,406.85" fill="none" stroke="#111" stroke-width="0.9"/>
<polyline points="397.5,416.25 418.5,416.25 440.0,425.66" fill="none" stroke="#111" stroke-width="0.9"/>
<polyline points="397.5,425.66 418.5,425.66 440.0,448.64" fill="none" stroke="#111" stroke-width="0.9"/>
<polyline points="397.5,448.64 418.5,446.56 440.0,439.24" fill="none" stroke="#111" stroke-width="0.9"/>
<polyline points="397.5,449.69 418.5,449.69 440.0,460.66" fill="none" stroke="#111" stroke-width="0.9"/>
<polyline points="397.5,450.74 418.5,457.53 440.0,454.92" fill="none" stroke="#111" stroke-width="0.9"/>
<circle cx="397.5" cy="399.53" r="2.2" fill="#e0144a"/>
<circle cx="397.5" cy="416.25" r="2.2" fill="#e0144a"/>
<circle cx="397.5" cy="425.66" r="2.2" fill="#e0144a"/>
<circle cx="397.5" cy="448.64" r="2.2" fill="#e0144a"/>
<circle cx="397.5" cy="449.69" r="2.2" fill="#e0144a"/>
<circle cx="397.5" cy="450.74" r="2.2" fill="#e0144a"/>
<circle cx="418.5" cy="396.39" r="2.2" fill="#15698c"/>
<circle cx="418.5" cy="416.25" r="2.2" fill="#15698c"/>
<circle cx="418.5" cy="425.66" r="2.2" fill="#15698c"/>
<circle cx="418.5" cy="446.56" r="2.2" fill="#15698c"/>
<circle cx="418.5" cy="449.69" r="2.2" fill="#15698c"/>
<circle cx="418.5" cy="457.53" r="2.2" fill="#15698c"/>
<circle cx="440.0" cy="406.85" r="2.2" fill="#2cc064"/>
<circle cx="440.0" cy="425.66" r="2.2" fill="#2cc064"/>
<circle cx="440.0" cy="448.64" r="2.2" fill="#2cc064"/>
<circle cx="440.0" cy="439.24" r="2.2" fill="#2cc064"/>
<circle cx="440.0" cy="460.66" r="2.2" fill="#2cc064"/>
<circle cx="440.0" cy="454.92" r="2.2" fill="#2cc064"/>
<path d="M397.2,389.9 L397.2,386.8 L419.2,386.8 L419.2,389.9" fill="none" stroke="#333" stroke-width="0.9"/>
<text x="408.10" y="383.32" font-size="8.0" text-anchor="middle" fill="#333" stroke="#333" stroke-width="0.17" font-style="italic" textLength="11.2" lengthAdjust="spacingAndGlyphs">n.s.</text>
<path d="M397.2,378.0 L397.2,374.9 L440.4,374.9 L440.4,378.0" fill="none" stroke="#333" stroke-width="0.9"/>
<text x="418.70" y="370.62" font-size="8.0" text-anchor="middle" fill="#333" stroke="#333" stroke-width="0.17" font-style="italic" textLength="11.2" lengthAdjust="spacingAndGlyphs">n.s.</text>
<text x="359.60" y="428.20" font-size="8.3" text-anchor="middle" fill="#231f20" stroke="#231f20" stroke-width="0.17" transform="rotate(-90 359.60 428.20)" textLength="82.0" lengthAdjust="spacingAndGlyphs">IL-22+ of CD4+ tCD34+</text>
<text x="418.80" y="481.80" font-size="7.9" text-anchor="middle" fill="#231f20" stroke="#231f20" stroke-width="0.17" textLength="58.0" lengthAdjust="spacingAndGlyphs">PMA/Ionomycin</text>
<circle cx="463.6" cy="419.5" r="2.2" fill="#e0144a"/>
<text x="468.80" y="422.20" font-size="7.6" text-anchor="start" fill="#231f20" stroke="#231f20" stroke-width="0.17">N1 + Scramble</text>
<circle cx="463.6" cy="429.3" r="2.2" fill="#15698c"/>
<text x="468.80" y="432.00" font-size="7.6" text-anchor="start" fill="#231f20" stroke="#231f20" stroke-width="0.17">N1 + α<tspan font-style="italic">Maf</tspan> #1</text>
<circle cx="463.6" cy="439.3" r="2.2" fill="#2cc064"/>
<text x="468.80" y="442.00" font-size="7.6" text-anchor="start" fill="#231f20" stroke="#231f20" stroke-width="0.17">N1 + α<tspan font-style="italic">Maf</tspan> #2</text>
</svg>
</body></html>
